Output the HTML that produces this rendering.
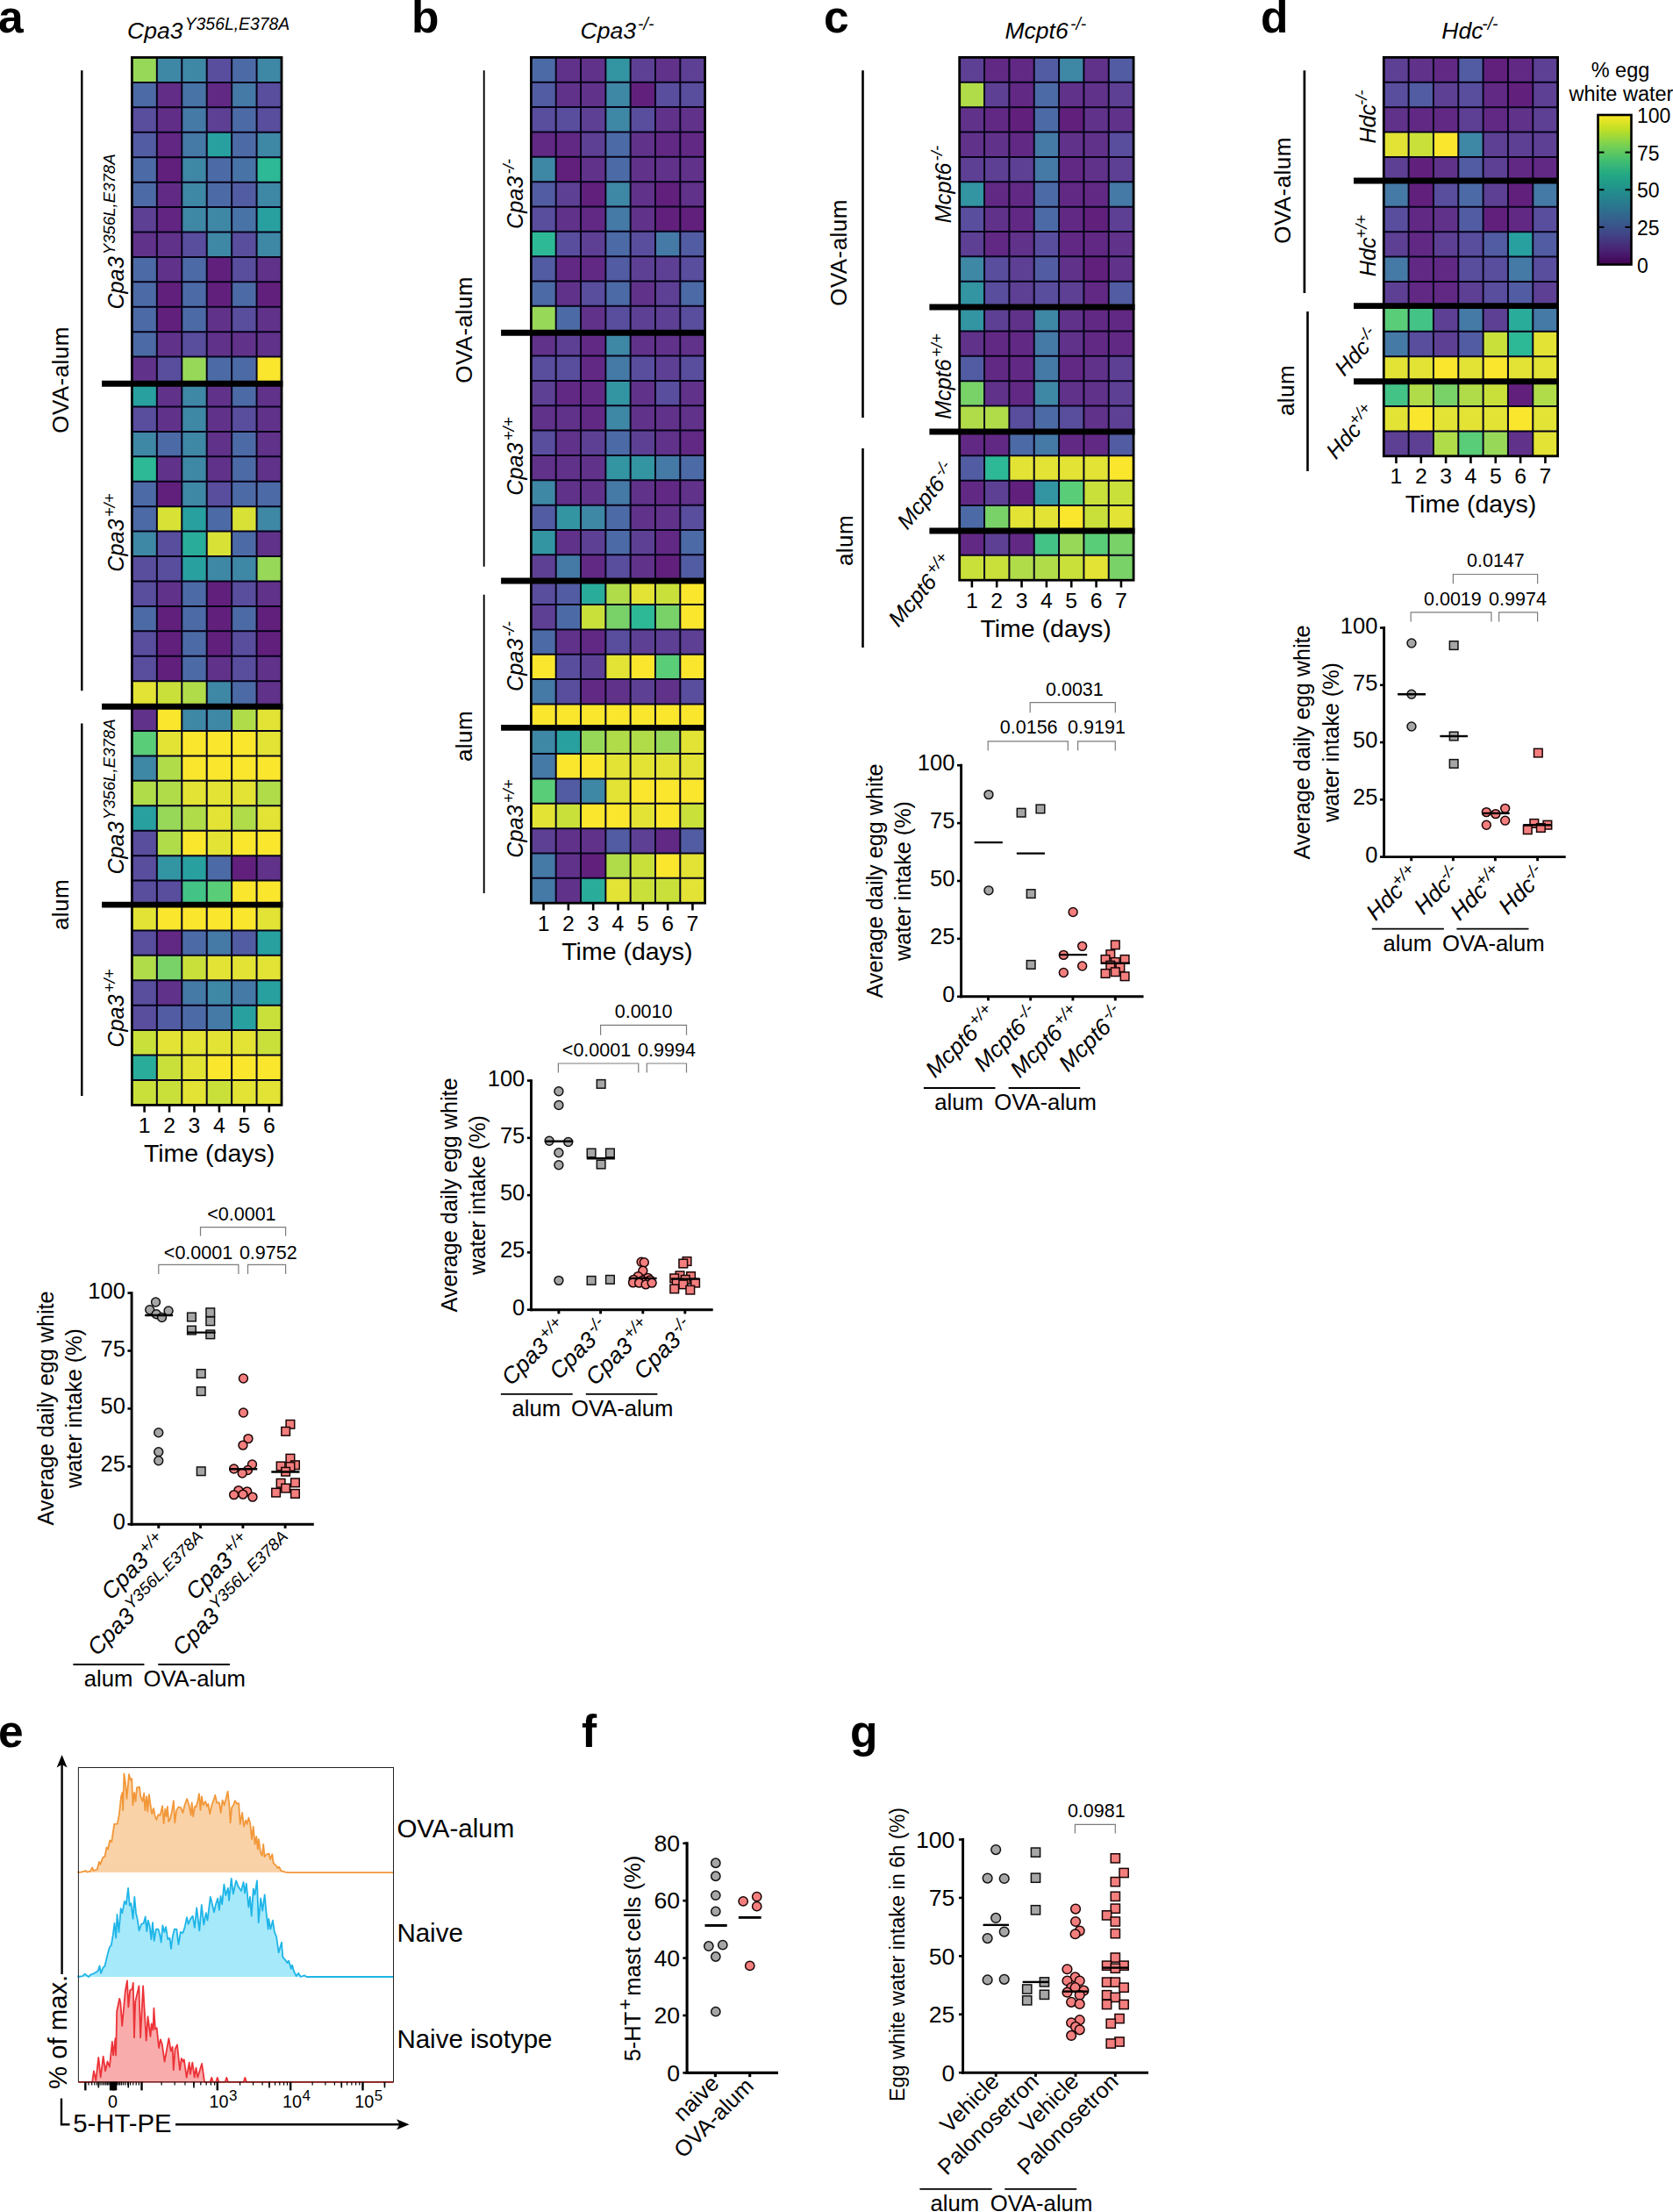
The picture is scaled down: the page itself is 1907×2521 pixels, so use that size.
<!DOCTYPE html>
<html lang="en"><head><meta charset="utf-8"><title>Figure</title><style>html,body{margin:0;padding:0;background:#fff}body{width:1907px;height:2521px;overflow:hidden}</style></head><body>
<svg width="1907" height="2521" viewBox="0 0 1907 2521" style="display:block;font-family:'Liberation Sans', Arial, Helvetica, sans-serif;fill:#000">
<rect width="1907" height="2521" fill="#fff"/>
<text x="-2.00" y="37.30" text-anchor="start" style="font-size:51.5px;font-weight:bold;">a</text>
<g shape-rendering="auto">
<rect x="150.40" y="65.50" width="28.73" height="28.73" fill="#98d858"/>
<rect x="178.83" y="65.50" width="28.73" height="28.73" fill="#3e87a5"/>
<rect x="207.27" y="65.50" width="28.73" height="28.73" fill="#3e87a5"/>
<rect x="235.70" y="65.50" width="28.73" height="28.73" fill="#594d9e"/>
<rect x="264.13" y="65.50" width="28.73" height="28.73" fill="#4c6ba6"/>
<rect x="292.57" y="65.50" width="28.73" height="28.73" fill="#3e87a5"/>
<rect x="150.40" y="93.93" width="28.73" height="28.73" fill="#4c6ba6"/>
<rect x="178.83" y="93.93" width="28.73" height="28.73" fill="#612d86"/>
<rect x="207.27" y="93.93" width="28.73" height="28.73" fill="#4873a6"/>
<rect x="235.70" y="93.93" width="28.73" height="28.73" fill="#622984"/>
<rect x="264.13" y="93.93" width="28.73" height="28.73" fill="#4579a6"/>
<rect x="292.57" y="93.93" width="28.73" height="28.73" fill="#594d9e"/>
<rect x="150.40" y="122.35" width="28.73" height="28.73" fill="#594d9e"/>
<rect x="178.83" y="122.35" width="28.73" height="28.73" fill="#612e87"/>
<rect x="207.27" y="122.35" width="28.73" height="28.73" fill="#4579a6"/>
<rect x="235.70" y="122.35" width="28.73" height="28.73" fill="#5d4094"/>
<rect x="264.13" y="122.35" width="28.73" height="28.73" fill="#4c6ba6"/>
<rect x="292.57" y="122.35" width="28.73" height="28.73" fill="#594d9e"/>
<rect x="150.40" y="150.78" width="28.73" height="28.73" fill="#525ca2"/>
<rect x="178.83" y="150.78" width="28.73" height="28.73" fill="#622782"/>
<rect x="207.27" y="150.78" width="28.73" height="28.73" fill="#4579a6"/>
<rect x="235.70" y="150.78" width="28.73" height="28.73" fill="#28a0a0"/>
<rect x="264.13" y="150.78" width="28.73" height="28.73" fill="#4c6ba6"/>
<rect x="292.57" y="150.78" width="28.73" height="28.73" fill="#3e87a5"/>
<rect x="150.40" y="179.20" width="28.73" height="28.73" fill="#4c6ba6"/>
<rect x="178.83" y="179.20" width="28.73" height="28.73" fill="#62207d"/>
<rect x="207.27" y="179.20" width="28.73" height="28.73" fill="#3e87a5"/>
<rect x="235.70" y="179.20" width="28.73" height="28.73" fill="#4c6ba6"/>
<rect x="264.13" y="179.20" width="28.73" height="28.73" fill="#4873a6"/>
<rect x="292.57" y="179.20" width="28.73" height="28.73" fill="#2db996"/>
<rect x="150.40" y="207.63" width="28.73" height="28.73" fill="#4c6ba6"/>
<rect x="178.83" y="207.63" width="28.73" height="28.73" fill="#612b85"/>
<rect x="207.27" y="207.63" width="28.73" height="28.73" fill="#3e87a5"/>
<rect x="235.70" y="207.63" width="28.73" height="28.73" fill="#4c6ba6"/>
<rect x="264.13" y="207.63" width="28.73" height="28.73" fill="#525ca2"/>
<rect x="292.57" y="207.63" width="28.73" height="28.73" fill="#3e87a5"/>
<rect x="150.40" y="236.06" width="28.73" height="28.73" fill="#5d4094"/>
<rect x="178.83" y="236.06" width="28.73" height="28.73" fill="#622581"/>
<rect x="207.27" y="236.06" width="28.73" height="28.73" fill="#3e87a5"/>
<rect x="235.70" y="236.06" width="28.73" height="28.73" fill="#3e87a5"/>
<rect x="264.13" y="236.06" width="28.73" height="28.73" fill="#4873a6"/>
<rect x="292.57" y="236.06" width="28.73" height="28.73" fill="#28a0a0"/>
<rect x="150.40" y="264.48" width="28.73" height="28.73" fill="#61328a"/>
<rect x="178.83" y="264.48" width="28.73" height="28.73" fill="#61328a"/>
<rect x="207.27" y="264.48" width="28.73" height="28.73" fill="#594d9e"/>
<rect x="235.70" y="264.48" width="28.73" height="28.73" fill="#3e87a5"/>
<rect x="264.13" y="264.48" width="28.73" height="28.73" fill="#594d9e"/>
<rect x="292.57" y="264.48" width="28.73" height="28.73" fill="#3e87a5"/>
<rect x="150.40" y="292.91" width="28.73" height="28.73" fill="#4c6ba6"/>
<rect x="178.83" y="292.91" width="28.73" height="28.73" fill="#61328a"/>
<rect x="207.27" y="292.91" width="28.73" height="28.73" fill="#4c6ba6"/>
<rect x="235.70" y="292.91" width="28.73" height="28.73" fill="#62207d"/>
<rect x="264.13" y="292.91" width="28.73" height="28.73" fill="#594d9e"/>
<rect x="292.57" y="292.91" width="28.73" height="28.73" fill="#61328a"/>
<rect x="150.40" y="321.34" width="28.73" height="28.73" fill="#4c6ba6"/>
<rect x="178.83" y="321.34" width="28.73" height="28.73" fill="#62207d"/>
<rect x="207.27" y="321.34" width="28.73" height="28.73" fill="#4c6ba6"/>
<rect x="235.70" y="321.34" width="28.73" height="28.73" fill="#62207d"/>
<rect x="264.13" y="321.34" width="28.73" height="28.73" fill="#4c6ba6"/>
<rect x="292.57" y="321.34" width="28.73" height="28.73" fill="#62207d"/>
<rect x="150.40" y="349.76" width="28.73" height="28.73" fill="#4c6ba6"/>
<rect x="178.83" y="349.76" width="28.73" height="28.73" fill="#62207d"/>
<rect x="207.27" y="349.76" width="28.73" height="28.73" fill="#4c6ba6"/>
<rect x="235.70" y="349.76" width="28.73" height="28.73" fill="#61328a"/>
<rect x="264.13" y="349.76" width="28.73" height="28.73" fill="#594d9e"/>
<rect x="292.57" y="349.76" width="28.73" height="28.73" fill="#61328a"/>
<rect x="150.40" y="378.19" width="28.73" height="28.73" fill="#4c6ba6"/>
<rect x="178.83" y="378.19" width="28.73" height="28.73" fill="#61328a"/>
<rect x="207.27" y="378.19" width="28.73" height="28.73" fill="#594d9e"/>
<rect x="235.70" y="378.19" width="28.73" height="28.73" fill="#61328a"/>
<rect x="264.13" y="378.19" width="28.73" height="28.73" fill="#61328a"/>
<rect x="292.57" y="378.19" width="28.73" height="28.73" fill="#61328a"/>
<rect x="150.40" y="406.61" width="28.73" height="28.73" fill="#61328a"/>
<rect x="178.83" y="406.61" width="28.73" height="28.73" fill="#594d9e"/>
<rect x="207.27" y="406.61" width="28.73" height="28.73" fill="#98d858"/>
<rect x="235.70" y="406.61" width="28.73" height="28.73" fill="#4c6ba6"/>
<rect x="264.13" y="406.61" width="28.73" height="28.73" fill="#4c6ba6"/>
<rect x="292.57" y="406.61" width="28.73" height="28.73" fill="#fae62d"/>
<rect x="150.40" y="435.04" width="28.73" height="28.73" fill="#28a0a0"/>
<rect x="178.83" y="435.04" width="28.73" height="28.73" fill="#61328a"/>
<rect x="207.27" y="435.04" width="28.73" height="28.73" fill="#3e87a5"/>
<rect x="235.70" y="435.04" width="28.73" height="28.73" fill="#61328a"/>
<rect x="264.13" y="435.04" width="28.73" height="28.73" fill="#4c6ba6"/>
<rect x="292.57" y="435.04" width="28.73" height="28.73" fill="#61328a"/>
<rect x="150.40" y="463.47" width="28.73" height="28.73" fill="#594d9e"/>
<rect x="178.83" y="463.47" width="28.73" height="28.73" fill="#61328a"/>
<rect x="207.27" y="463.47" width="28.73" height="28.73" fill="#3e87a5"/>
<rect x="235.70" y="463.47" width="28.73" height="28.73" fill="#61328a"/>
<rect x="264.13" y="463.47" width="28.73" height="28.73" fill="#594d9e"/>
<rect x="292.57" y="463.47" width="28.73" height="28.73" fill="#61328a"/>
<rect x="150.40" y="491.89" width="28.73" height="28.73" fill="#3e87a5"/>
<rect x="178.83" y="491.89" width="28.73" height="28.73" fill="#4c6ba6"/>
<rect x="207.27" y="491.89" width="28.73" height="28.73" fill="#3e87a5"/>
<rect x="235.70" y="491.89" width="28.73" height="28.73" fill="#61328a"/>
<rect x="264.13" y="491.89" width="28.73" height="28.73" fill="#4c6ba6"/>
<rect x="292.57" y="491.89" width="28.73" height="28.73" fill="#61328a"/>
<rect x="150.40" y="520.32" width="28.73" height="28.73" fill="#2db996"/>
<rect x="178.83" y="520.32" width="28.73" height="28.73" fill="#61328a"/>
<rect x="207.27" y="520.32" width="28.73" height="28.73" fill="#3e87a5"/>
<rect x="235.70" y="520.32" width="28.73" height="28.73" fill="#61328a"/>
<rect x="264.13" y="520.32" width="28.73" height="28.73" fill="#4c6ba6"/>
<rect x="292.57" y="520.32" width="28.73" height="28.73" fill="#61328a"/>
<rect x="150.40" y="548.75" width="28.73" height="28.73" fill="#4c6ba6"/>
<rect x="178.83" y="548.75" width="28.73" height="28.73" fill="#62207d"/>
<rect x="207.27" y="548.75" width="28.73" height="28.73" fill="#3e87a5"/>
<rect x="235.70" y="548.75" width="28.73" height="28.73" fill="#594d9e"/>
<rect x="264.13" y="548.75" width="28.73" height="28.73" fill="#4c6ba6"/>
<rect x="292.57" y="548.75" width="28.73" height="28.73" fill="#4c6ba6"/>
<rect x="150.40" y="577.17" width="28.73" height="28.73" fill="#4c6ba6"/>
<rect x="178.83" y="577.17" width="28.73" height="28.73" fill="#d8e236"/>
<rect x="207.27" y="577.17" width="28.73" height="28.73" fill="#28a0a0"/>
<rect x="235.70" y="577.17" width="28.73" height="28.73" fill="#4c6ba6"/>
<rect x="264.13" y="577.17" width="28.73" height="28.73" fill="#d8e236"/>
<rect x="292.57" y="577.17" width="28.73" height="28.73" fill="#3e87a5"/>
<rect x="150.40" y="605.60" width="28.73" height="28.73" fill="#3e87a5"/>
<rect x="178.83" y="605.60" width="28.73" height="28.73" fill="#594d9e"/>
<rect x="207.27" y="605.60" width="28.73" height="28.73" fill="#2aac9b"/>
<rect x="235.70" y="605.60" width="28.73" height="28.73" fill="#d8e236"/>
<rect x="264.13" y="605.60" width="28.73" height="28.73" fill="#4c6ba6"/>
<rect x="292.57" y="605.60" width="28.73" height="28.73" fill="#61328a"/>
<rect x="150.40" y="634.02" width="28.73" height="28.73" fill="#594d9e"/>
<rect x="178.83" y="634.02" width="28.73" height="28.73" fill="#594d9e"/>
<rect x="207.27" y="634.02" width="28.73" height="28.73" fill="#28a0a0"/>
<rect x="235.70" y="634.02" width="28.73" height="28.73" fill="#3e87a5"/>
<rect x="264.13" y="634.02" width="28.73" height="28.73" fill="#3e87a5"/>
<rect x="292.57" y="634.02" width="28.73" height="28.73" fill="#98d858"/>
<rect x="150.40" y="662.45" width="28.73" height="28.73" fill="#594d9e"/>
<rect x="178.83" y="662.45" width="28.73" height="28.73" fill="#61328a"/>
<rect x="207.27" y="662.45" width="28.73" height="28.73" fill="#4c6ba6"/>
<rect x="235.70" y="662.45" width="28.73" height="28.73" fill="#62207d"/>
<rect x="264.13" y="662.45" width="28.73" height="28.73" fill="#594d9e"/>
<rect x="292.57" y="662.45" width="28.73" height="28.73" fill="#61328a"/>
<rect x="150.40" y="690.88" width="28.73" height="28.73" fill="#4c6ba6"/>
<rect x="178.83" y="690.88" width="28.73" height="28.73" fill="#62207d"/>
<rect x="207.27" y="690.88" width="28.73" height="28.73" fill="#4c6ba6"/>
<rect x="235.70" y="690.88" width="28.73" height="28.73" fill="#62207d"/>
<rect x="264.13" y="690.88" width="28.73" height="28.73" fill="#4c6ba6"/>
<rect x="292.57" y="690.88" width="28.73" height="28.73" fill="#62207d"/>
<rect x="150.40" y="719.30" width="28.73" height="28.73" fill="#594d9e"/>
<rect x="178.83" y="719.30" width="28.73" height="28.73" fill="#62207d"/>
<rect x="207.27" y="719.30" width="28.73" height="28.73" fill="#4c6ba6"/>
<rect x="235.70" y="719.30" width="28.73" height="28.73" fill="#62207d"/>
<rect x="264.13" y="719.30" width="28.73" height="28.73" fill="#594d9e"/>
<rect x="292.57" y="719.30" width="28.73" height="28.73" fill="#62207d"/>
<rect x="150.40" y="747.73" width="28.73" height="28.73" fill="#594d9e"/>
<rect x="178.83" y="747.73" width="28.73" height="28.73" fill="#62207d"/>
<rect x="207.27" y="747.73" width="28.73" height="28.73" fill="#4c6ba6"/>
<rect x="235.70" y="747.73" width="28.73" height="28.73" fill="#61328a"/>
<rect x="264.13" y="747.73" width="28.73" height="28.73" fill="#594d9e"/>
<rect x="292.57" y="747.73" width="28.73" height="28.73" fill="#61328a"/>
<rect x="150.40" y="776.15" width="28.73" height="28.73" fill="#e2e334"/>
<rect x="178.83" y="776.15" width="28.73" height="28.73" fill="#cae03a"/>
<rect x="207.27" y="776.15" width="28.73" height="28.73" fill="#b1dc49"/>
<rect x="235.70" y="776.15" width="28.73" height="28.73" fill="#3e87a5"/>
<rect x="264.13" y="776.15" width="28.73" height="28.73" fill="#4c6ba6"/>
<rect x="292.57" y="776.15" width="28.73" height="28.73" fill="#61328a"/>
<rect x="150.40" y="804.58" width="28.73" height="28.73" fill="#61328a"/>
<rect x="178.83" y="804.58" width="28.73" height="28.73" fill="#fae62d"/>
<rect x="207.27" y="804.58" width="28.73" height="28.73" fill="#3e87a5"/>
<rect x="235.70" y="804.58" width="28.73" height="28.73" fill="#3e87a5"/>
<rect x="264.13" y="804.58" width="28.73" height="28.73" fill="#b1dc49"/>
<rect x="292.57" y="804.58" width="28.73" height="28.73" fill="#e2e334"/>
<rect x="150.40" y="833.01" width="28.73" height="28.73" fill="#5acd78"/>
<rect x="178.83" y="833.01" width="28.73" height="28.73" fill="#e2e334"/>
<rect x="207.27" y="833.01" width="28.73" height="28.73" fill="#fae62d"/>
<rect x="235.70" y="833.01" width="28.73" height="28.73" fill="#fae62d"/>
<rect x="264.13" y="833.01" width="28.73" height="28.73" fill="#fae62d"/>
<rect x="292.57" y="833.01" width="28.73" height="28.73" fill="#e2e334"/>
<rect x="150.40" y="861.43" width="28.73" height="28.73" fill="#3e87a5"/>
<rect x="178.83" y="861.43" width="28.73" height="28.73" fill="#b1dc49"/>
<rect x="207.27" y="861.43" width="28.73" height="28.73" fill="#fae62d"/>
<rect x="235.70" y="861.43" width="28.73" height="28.73" fill="#fae62d"/>
<rect x="264.13" y="861.43" width="28.73" height="28.73" fill="#fae62d"/>
<rect x="292.57" y="861.43" width="28.73" height="28.73" fill="#fae62d"/>
<rect x="150.40" y="889.86" width="28.73" height="28.73" fill="#b1dc49"/>
<rect x="178.83" y="889.86" width="28.73" height="28.73" fill="#b1dc49"/>
<rect x="207.27" y="889.86" width="28.73" height="28.73" fill="#e2e334"/>
<rect x="235.70" y="889.86" width="28.73" height="28.73" fill="#e2e334"/>
<rect x="264.13" y="889.86" width="28.73" height="28.73" fill="#e2e334"/>
<rect x="292.57" y="889.86" width="28.73" height="28.73" fill="#b1dc49"/>
<rect x="150.40" y="918.29" width="28.73" height="28.73" fill="#28a0a0"/>
<rect x="178.83" y="918.29" width="28.73" height="28.73" fill="#98d858"/>
<rect x="207.27" y="918.29" width="28.73" height="28.73" fill="#b1dc49"/>
<rect x="235.70" y="918.29" width="28.73" height="28.73" fill="#e2e334"/>
<rect x="264.13" y="918.29" width="28.73" height="28.73" fill="#b1dc49"/>
<rect x="292.57" y="918.29" width="28.73" height="28.73" fill="#e2e334"/>
<rect x="150.40" y="946.71" width="28.73" height="28.73" fill="#594d9e"/>
<rect x="178.83" y="946.71" width="28.73" height="28.73" fill="#b1dc49"/>
<rect x="207.27" y="946.71" width="28.73" height="28.73" fill="#fae62d"/>
<rect x="235.70" y="946.71" width="28.73" height="28.73" fill="#e2e334"/>
<rect x="264.13" y="946.71" width="28.73" height="28.73" fill="#fae62d"/>
<rect x="292.57" y="946.71" width="28.73" height="28.73" fill="#fae62d"/>
<rect x="150.40" y="975.14" width="28.73" height="28.73" fill="#594d9e"/>
<rect x="178.83" y="975.14" width="28.73" height="28.73" fill="#3394a2"/>
<rect x="207.27" y="975.14" width="28.73" height="28.73" fill="#28a0a0"/>
<rect x="235.70" y="975.14" width="28.73" height="28.73" fill="#4c6ba6"/>
<rect x="264.13" y="975.14" width="28.73" height="28.73" fill="#62207d"/>
<rect x="292.57" y="975.14" width="28.73" height="28.73" fill="#61328a"/>
<rect x="150.40" y="1003.56" width="28.73" height="28.73" fill="#594d9e"/>
<rect x="178.83" y="1003.56" width="28.73" height="28.73" fill="#594d9e"/>
<rect x="207.27" y="1003.56" width="28.73" height="28.73" fill="#44c387"/>
<rect x="235.70" y="1003.56" width="28.73" height="28.73" fill="#5acd78"/>
<rect x="264.13" y="1003.56" width="28.73" height="28.73" fill="#fae62d"/>
<rect x="292.57" y="1003.56" width="28.73" height="28.73" fill="#fae62d"/>
<rect x="150.40" y="1031.99" width="28.73" height="28.73" fill="#e2e334"/>
<rect x="178.83" y="1031.99" width="28.73" height="28.73" fill="#fae62d"/>
<rect x="207.27" y="1031.99" width="28.73" height="28.73" fill="#fae62d"/>
<rect x="235.70" y="1031.99" width="28.73" height="28.73" fill="#fae62d"/>
<rect x="264.13" y="1031.99" width="28.73" height="28.73" fill="#fae62d"/>
<rect x="292.57" y="1031.99" width="28.73" height="28.73" fill="#e2e334"/>
<rect x="150.40" y="1060.42" width="28.73" height="28.73" fill="#594d9e"/>
<rect x="178.83" y="1060.42" width="28.73" height="28.73" fill="#622984"/>
<rect x="207.27" y="1060.42" width="28.73" height="28.73" fill="#4c6ba6"/>
<rect x="235.70" y="1060.42" width="28.73" height="28.73" fill="#4579a6"/>
<rect x="264.13" y="1060.42" width="28.73" height="28.73" fill="#525ca2"/>
<rect x="292.57" y="1060.42" width="28.73" height="28.73" fill="#28a0a0"/>
<rect x="150.40" y="1088.84" width="28.73" height="28.73" fill="#b1dc49"/>
<rect x="178.83" y="1088.84" width="28.73" height="28.73" fill="#79d268"/>
<rect x="207.27" y="1088.84" width="28.73" height="28.73" fill="#cae03a"/>
<rect x="235.70" y="1088.84" width="28.73" height="28.73" fill="#e2e334"/>
<rect x="264.13" y="1088.84" width="28.73" height="28.73" fill="#e2e334"/>
<rect x="292.57" y="1088.84" width="28.73" height="28.73" fill="#e2e334"/>
<rect x="150.40" y="1117.27" width="28.73" height="28.73" fill="#594d9e"/>
<rect x="178.83" y="1117.27" width="28.73" height="28.73" fill="#61328a"/>
<rect x="207.27" y="1117.27" width="28.73" height="28.73" fill="#4579a6"/>
<rect x="235.70" y="1117.27" width="28.73" height="28.73" fill="#3e87a5"/>
<rect x="264.13" y="1117.27" width="28.73" height="28.73" fill="#4579a6"/>
<rect x="292.57" y="1117.27" width="28.73" height="28.73" fill="#28a0a0"/>
<rect x="150.40" y="1145.70" width="28.73" height="28.73" fill="#594d9e"/>
<rect x="178.83" y="1145.70" width="28.73" height="28.73" fill="#525ca2"/>
<rect x="207.27" y="1145.70" width="28.73" height="28.73" fill="#4c6ba6"/>
<rect x="235.70" y="1145.70" width="28.73" height="28.73" fill="#4579a6"/>
<rect x="264.13" y="1145.70" width="28.73" height="28.73" fill="#28a0a0"/>
<rect x="292.57" y="1145.70" width="28.73" height="28.73" fill="#cae03a"/>
<rect x="150.40" y="1174.12" width="28.73" height="28.73" fill="#cae03a"/>
<rect x="178.83" y="1174.12" width="28.73" height="28.73" fill="#e2e334"/>
<rect x="207.27" y="1174.12" width="28.73" height="28.73" fill="#e2e334"/>
<rect x="235.70" y="1174.12" width="28.73" height="28.73" fill="#e2e334"/>
<rect x="264.13" y="1174.12" width="28.73" height="28.73" fill="#e2e334"/>
<rect x="292.57" y="1174.12" width="28.73" height="28.73" fill="#cae03a"/>
<rect x="150.40" y="1202.55" width="28.73" height="28.73" fill="#2aac9b"/>
<rect x="178.83" y="1202.55" width="28.73" height="28.73" fill="#cae03a"/>
<rect x="207.27" y="1202.55" width="28.73" height="28.73" fill="#e2e334"/>
<rect x="235.70" y="1202.55" width="28.73" height="28.73" fill="#fae62d"/>
<rect x="264.13" y="1202.55" width="28.73" height="28.73" fill="#fae62d"/>
<rect x="292.57" y="1202.55" width="28.73" height="28.73" fill="#fae62d"/>
<rect x="150.40" y="1230.97" width="28.73" height="28.73" fill="#cae03a"/>
<rect x="178.83" y="1230.97" width="28.73" height="28.73" fill="#cae03a"/>
<rect x="207.27" y="1230.97" width="28.73" height="28.73" fill="#e2e334"/>
<rect x="235.70" y="1230.97" width="28.73" height="28.73" fill="#cae03a"/>
<rect x="264.13" y="1230.97" width="28.73" height="28.73" fill="#e2e334"/>
<rect x="292.57" y="1230.97" width="28.73" height="28.73" fill="#e2e334"/>
<path d="M178.83 65.50V1259.40M207.27 65.50V1259.40M235.70 65.50V1259.40M264.13 65.50V1259.40M292.57 65.50V1259.40M150.40 93.93H321.00M150.40 122.35H321.00M150.40 150.78H321.00M150.40 179.20H321.00M150.40 207.63H321.00M150.40 236.06H321.00M150.40 264.48H321.00M150.40 292.91H321.00M150.40 321.34H321.00M150.40 349.76H321.00M150.40 378.19H321.00M150.40 406.61H321.00M150.40 435.04H321.00M150.40 463.47H321.00M150.40 491.89H321.00M150.40 520.32H321.00M150.40 548.75H321.00M150.40 577.17H321.00M150.40 605.60H321.00M150.40 634.02H321.00M150.40 662.45H321.00M150.40 690.88H321.00M150.40 719.30H321.00M150.40 747.73H321.00M150.40 776.15H321.00M150.40 804.58H321.00M150.40 833.01H321.00M150.40 861.43H321.00M150.40 889.86H321.00M150.40 918.29H321.00M150.40 946.71H321.00M150.40 975.14H321.00M150.40 1003.56H321.00M150.40 1031.99H321.00M150.40 1060.42H321.00M150.40 1088.84H321.00M150.40 1117.27H321.00M150.40 1145.70H321.00M150.40 1174.12H321.00M150.40 1202.55H321.00M150.40 1230.97H321.00" stroke="#06021a" stroke-width="2" fill="none"/>
<rect x="150.40" y="65.50" width="170.60" height="1193.90" fill="none" stroke="#000" stroke-width="2.8"/>
<line x1="116.10" y1="437.20" x2="322.40" y2="437.20" stroke="#000" stroke-width="6.9" stroke-linecap="butt"/>
<line x1="116.10" y1="805.30" x2="322.40" y2="805.30" stroke="#000" stroke-width="6.9" stroke-linecap="butt"/>
<line x1="116.10" y1="1031.10" x2="322.40" y2="1031.10" stroke="#000" stroke-width="6.9" stroke-linecap="butt"/>
</g>
<line x1="164.62" y1="1259.40" x2="164.62" y2="1267.70" stroke="#000" stroke-width="2.6" stroke-linecap="butt"/>
<text x="164.62" y="1290.90" text-anchor="middle" style="font-size:24.8px;">1</text>
<line x1="193.05" y1="1259.40" x2="193.05" y2="1267.70" stroke="#000" stroke-width="2.6" stroke-linecap="butt"/>
<text x="193.05" y="1290.90" text-anchor="middle" style="font-size:24.8px;">2</text>
<line x1="221.48" y1="1259.40" x2="221.48" y2="1267.70" stroke="#000" stroke-width="2.6" stroke-linecap="butt"/>
<text x="221.48" y="1290.90" text-anchor="middle" style="font-size:24.8px;">3</text>
<line x1="249.92" y1="1259.40" x2="249.92" y2="1267.70" stroke="#000" stroke-width="2.6" stroke-linecap="butt"/>
<text x="249.92" y="1290.90" text-anchor="middle" style="font-size:24.8px;">4</text>
<line x1="278.35" y1="1259.40" x2="278.35" y2="1267.70" stroke="#000" stroke-width="2.6" stroke-linecap="butt"/>
<text x="278.35" y="1290.90" text-anchor="middle" style="font-size:24.8px;">5</text>
<line x1="306.78" y1="1259.40" x2="306.78" y2="1267.70" stroke="#000" stroke-width="2.6" stroke-linecap="butt"/>
<text x="306.78" y="1290.90" text-anchor="middle" style="font-size:24.8px;">6</text>
<text x="238.60" y="1323.70" text-anchor="middle" style="font-size:28.5px;">Time (days)</text>
<text x="237.70" y="44.00" text-anchor="middle" style="font-size:26.5px;font-style:italic;"><tspan>Cpa3</tspan><tspan dx="2.2" dy="-9.8" style="font-size:19.4px">Y356L,E378A</tspan></text>
<line x1="93.30" y1="80.30" x2="93.30" y2="787.30" stroke="#000" stroke-width="2.4" stroke-linecap="butt"/>
<line x1="93.30" y1="824.60" x2="93.30" y2="1249.00" stroke="#000" stroke-width="2.4" stroke-linecap="butt"/>
<text x="0" y="0" text-anchor="middle" style="font-size:26px;" transform="translate(77.50,433.00) rotate(-90)" letter-spacing="0.45px">OVA-alum</text>
<text x="0" y="0" text-anchor="middle" style="font-size:26px;" transform="translate(77.50,1031.00) rotate(-90)" letter-spacing="0.45px">alum</text>
<text x="0" y="0" text-anchor="middle" style="font-size:25.2px;font-style:italic;" transform="translate(140.60,264.00) rotate(-90)"><tspan>Cpa3</tspan><tspan dx="2.2" dy="-9.5" style="font-size:18.6px">Y356L,E378A</tspan></text>
<text x="0" y="0" text-anchor="middle" style="font-size:25.2px;font-style:italic;" transform="translate(140.60,607.00) rotate(-90)"><tspan>Cpa3</tspan><tspan dx="2.2" dy="-9.5" style="font-size:18.6px">+/+</tspan></text>
<text x="0" y="0" text-anchor="middle" style="font-size:25.2px;font-style:italic;" transform="translate(140.60,908.00) rotate(-90)"><tspan>Cpa3</tspan><tspan dx="2.2" dy="-9.5" style="font-size:18.6px">Y356L,E378A</tspan></text>
<text x="0" y="0" text-anchor="middle" style="font-size:25.2px;font-style:italic;" transform="translate(140.60,1149.00) rotate(-90)"><tspan>Cpa3</tspan><tspan dx="2.2" dy="-9.5" style="font-size:18.6px">+/+</tspan></text>
<text x="469.00" y="37.30" text-anchor="start" style="font-size:51.5px;font-weight:bold;">b</text>
<g shape-rendering="auto">
<rect x="605.40" y="65.40" width="28.61" height="28.65" fill="#4c6ba6"/>
<rect x="633.71" y="65.40" width="28.61" height="28.65" fill="#61328a"/>
<rect x="662.03" y="65.40" width="28.61" height="28.65" fill="#61328a"/>
<rect x="690.34" y="65.40" width="28.61" height="28.65" fill="#3394a2"/>
<rect x="718.66" y="65.40" width="28.61" height="28.65" fill="#5d4094"/>
<rect x="746.97" y="65.40" width="28.61" height="28.65" fill="#61328a"/>
<rect x="775.29" y="65.40" width="28.61" height="28.65" fill="#5d4094"/>
<rect x="605.40" y="93.75" width="28.61" height="28.65" fill="#525ca2"/>
<rect x="633.71" y="93.75" width="28.61" height="28.65" fill="#61328a"/>
<rect x="662.03" y="93.75" width="28.61" height="28.65" fill="#61328a"/>
<rect x="690.34" y="93.75" width="28.61" height="28.65" fill="#3e87a5"/>
<rect x="718.66" y="93.75" width="28.61" height="28.65" fill="#62207d"/>
<rect x="746.97" y="93.75" width="28.61" height="28.65" fill="#594d9e"/>
<rect x="775.29" y="93.75" width="28.61" height="28.65" fill="#594d9e"/>
<rect x="605.40" y="122.09" width="28.61" height="28.65" fill="#594d9e"/>
<rect x="633.71" y="122.09" width="28.61" height="28.65" fill="#594d9e"/>
<rect x="662.03" y="122.09" width="28.61" height="28.65" fill="#5d4094"/>
<rect x="690.34" y="122.09" width="28.61" height="28.65" fill="#3e87a5"/>
<rect x="718.66" y="122.09" width="28.61" height="28.65" fill="#594d9e"/>
<rect x="746.97" y="122.09" width="28.61" height="28.65" fill="#61328a"/>
<rect x="775.29" y="122.09" width="28.61" height="28.65" fill="#61328a"/>
<rect x="605.40" y="150.44" width="28.61" height="28.65" fill="#622984"/>
<rect x="633.71" y="150.44" width="28.61" height="28.65" fill="#622984"/>
<rect x="662.03" y="150.44" width="28.61" height="28.65" fill="#5d4094"/>
<rect x="690.34" y="150.44" width="28.61" height="28.65" fill="#4c6ba6"/>
<rect x="718.66" y="150.44" width="28.61" height="28.65" fill="#61328a"/>
<rect x="746.97" y="150.44" width="28.61" height="28.65" fill="#622984"/>
<rect x="775.29" y="150.44" width="28.61" height="28.65" fill="#622984"/>
<rect x="605.40" y="178.79" width="28.61" height="28.65" fill="#3e87a5"/>
<rect x="633.71" y="178.79" width="28.61" height="28.65" fill="#62207d"/>
<rect x="662.03" y="178.79" width="28.61" height="28.65" fill="#61328a"/>
<rect x="690.34" y="178.79" width="28.61" height="28.65" fill="#4c6ba6"/>
<rect x="718.66" y="178.79" width="28.61" height="28.65" fill="#61328a"/>
<rect x="746.97" y="178.79" width="28.61" height="28.65" fill="#61328a"/>
<rect x="775.29" y="178.79" width="28.61" height="28.65" fill="#61328a"/>
<rect x="605.40" y="207.14" width="28.61" height="28.65" fill="#525ca2"/>
<rect x="633.71" y="207.14" width="28.61" height="28.65" fill="#5d4094"/>
<rect x="662.03" y="207.14" width="28.61" height="28.65" fill="#62207d"/>
<rect x="690.34" y="207.14" width="28.61" height="28.65" fill="#3e87a5"/>
<rect x="718.66" y="207.14" width="28.61" height="28.65" fill="#61328a"/>
<rect x="746.97" y="207.14" width="28.61" height="28.65" fill="#62207d"/>
<rect x="775.29" y="207.14" width="28.61" height="28.65" fill="#61328a"/>
<rect x="605.40" y="235.48" width="28.61" height="28.65" fill="#594d9e"/>
<rect x="633.71" y="235.48" width="28.61" height="28.65" fill="#61328a"/>
<rect x="662.03" y="235.48" width="28.61" height="28.65" fill="#622984"/>
<rect x="690.34" y="235.48" width="28.61" height="28.65" fill="#4579a6"/>
<rect x="718.66" y="235.48" width="28.61" height="28.65" fill="#61328a"/>
<rect x="746.97" y="235.48" width="28.61" height="28.65" fill="#62207d"/>
<rect x="775.29" y="235.48" width="28.61" height="28.65" fill="#62207d"/>
<rect x="605.40" y="263.83" width="28.61" height="28.65" fill="#2db996"/>
<rect x="633.71" y="263.83" width="28.61" height="28.65" fill="#594d9e"/>
<rect x="662.03" y="263.83" width="28.61" height="28.65" fill="#5d4094"/>
<rect x="690.34" y="263.83" width="28.61" height="28.65" fill="#4c6ba6"/>
<rect x="718.66" y="263.83" width="28.61" height="28.65" fill="#594d9e"/>
<rect x="746.97" y="263.83" width="28.61" height="28.65" fill="#4579a6"/>
<rect x="775.29" y="263.83" width="28.61" height="28.65" fill="#525ca2"/>
<rect x="605.40" y="292.18" width="28.61" height="28.65" fill="#525ca2"/>
<rect x="633.71" y="292.18" width="28.61" height="28.65" fill="#622984"/>
<rect x="662.03" y="292.18" width="28.61" height="28.65" fill="#622984"/>
<rect x="690.34" y="292.18" width="28.61" height="28.65" fill="#525ca2"/>
<rect x="718.66" y="292.18" width="28.61" height="28.65" fill="#5d4094"/>
<rect x="746.97" y="292.18" width="28.61" height="28.65" fill="#5d4094"/>
<rect x="775.29" y="292.18" width="28.61" height="28.65" fill="#594d9e"/>
<rect x="605.40" y="320.52" width="28.61" height="28.65" fill="#4c6ba6"/>
<rect x="633.71" y="320.52" width="28.61" height="28.65" fill="#61328a"/>
<rect x="662.03" y="320.52" width="28.61" height="28.65" fill="#594d9e"/>
<rect x="690.34" y="320.52" width="28.61" height="28.65" fill="#4c6ba6"/>
<rect x="718.66" y="320.52" width="28.61" height="28.65" fill="#61328a"/>
<rect x="746.97" y="320.52" width="28.61" height="28.65" fill="#5d4094"/>
<rect x="775.29" y="320.52" width="28.61" height="28.65" fill="#4c6ba6"/>
<rect x="605.40" y="348.87" width="28.61" height="28.65" fill="#98d858"/>
<rect x="633.71" y="348.87" width="28.61" height="28.65" fill="#4c6ba6"/>
<rect x="662.03" y="348.87" width="28.61" height="28.65" fill="#61328a"/>
<rect x="690.34" y="348.87" width="28.61" height="28.65" fill="#594d9e"/>
<rect x="718.66" y="348.87" width="28.61" height="28.65" fill="#5d4094"/>
<rect x="746.97" y="348.87" width="28.61" height="28.65" fill="#5d4094"/>
<rect x="775.29" y="348.87" width="28.61" height="28.65" fill="#594d9e"/>
<rect x="605.40" y="377.22" width="28.61" height="28.65" fill="#61328a"/>
<rect x="633.71" y="377.22" width="28.61" height="28.65" fill="#5d4094"/>
<rect x="662.03" y="377.22" width="28.61" height="28.65" fill="#622984"/>
<rect x="690.34" y="377.22" width="28.61" height="28.65" fill="#3e87a5"/>
<rect x="718.66" y="377.22" width="28.61" height="28.65" fill="#61328a"/>
<rect x="746.97" y="377.22" width="28.61" height="28.65" fill="#61328a"/>
<rect x="775.29" y="377.22" width="28.61" height="28.65" fill="#61328a"/>
<rect x="605.40" y="405.56" width="28.61" height="28.65" fill="#594d9e"/>
<rect x="633.71" y="405.56" width="28.61" height="28.65" fill="#594d9e"/>
<rect x="662.03" y="405.56" width="28.61" height="28.65" fill="#622984"/>
<rect x="690.34" y="405.56" width="28.61" height="28.65" fill="#4579a6"/>
<rect x="718.66" y="405.56" width="28.61" height="28.65" fill="#594d9e"/>
<rect x="746.97" y="405.56" width="28.61" height="28.65" fill="#5d4094"/>
<rect x="775.29" y="405.56" width="28.61" height="28.65" fill="#594d9e"/>
<rect x="605.40" y="433.91" width="28.61" height="28.65" fill="#5d4094"/>
<rect x="633.71" y="433.91" width="28.61" height="28.65" fill="#622984"/>
<rect x="662.03" y="433.91" width="28.61" height="28.65" fill="#622984"/>
<rect x="690.34" y="433.91" width="28.61" height="28.65" fill="#3394a2"/>
<rect x="718.66" y="433.91" width="28.61" height="28.65" fill="#61328a"/>
<rect x="746.97" y="433.91" width="28.61" height="28.65" fill="#594d9e"/>
<rect x="775.29" y="433.91" width="28.61" height="28.65" fill="#61328a"/>
<rect x="605.40" y="462.26" width="28.61" height="28.65" fill="#61328a"/>
<rect x="633.71" y="462.26" width="28.61" height="28.65" fill="#61328a"/>
<rect x="662.03" y="462.26" width="28.61" height="28.65" fill="#622984"/>
<rect x="690.34" y="462.26" width="28.61" height="28.65" fill="#3e87a5"/>
<rect x="718.66" y="462.26" width="28.61" height="28.65" fill="#61328a"/>
<rect x="746.97" y="462.26" width="28.61" height="28.65" fill="#61328a"/>
<rect x="775.29" y="462.26" width="28.61" height="28.65" fill="#61328a"/>
<rect x="605.40" y="490.61" width="28.61" height="28.65" fill="#594d9e"/>
<rect x="633.71" y="490.61" width="28.61" height="28.65" fill="#61328a"/>
<rect x="662.03" y="490.61" width="28.61" height="28.65" fill="#5d4094"/>
<rect x="690.34" y="490.61" width="28.61" height="28.65" fill="#4c6ba6"/>
<rect x="718.66" y="490.61" width="28.61" height="28.65" fill="#5d4094"/>
<rect x="746.97" y="490.61" width="28.61" height="28.65" fill="#61328a"/>
<rect x="775.29" y="490.61" width="28.61" height="28.65" fill="#622984"/>
<rect x="605.40" y="518.95" width="28.61" height="28.65" fill="#61328a"/>
<rect x="633.71" y="518.95" width="28.61" height="28.65" fill="#61328a"/>
<rect x="662.03" y="518.95" width="28.61" height="28.65" fill="#61328a"/>
<rect x="690.34" y="518.95" width="28.61" height="28.65" fill="#3394a2"/>
<rect x="718.66" y="518.95" width="28.61" height="28.65" fill="#3394a2"/>
<rect x="746.97" y="518.95" width="28.61" height="28.65" fill="#4579a6"/>
<rect x="775.29" y="518.95" width="28.61" height="28.65" fill="#4c6ba6"/>
<rect x="605.40" y="547.30" width="28.61" height="28.65" fill="#3e87a5"/>
<rect x="633.71" y="547.30" width="28.61" height="28.65" fill="#61328a"/>
<rect x="662.03" y="547.30" width="28.61" height="28.65" fill="#61328a"/>
<rect x="690.34" y="547.30" width="28.61" height="28.65" fill="#4579a6"/>
<rect x="718.66" y="547.30" width="28.61" height="28.65" fill="#61328a"/>
<rect x="746.97" y="547.30" width="28.61" height="28.65" fill="#622984"/>
<rect x="775.29" y="547.30" width="28.61" height="28.65" fill="#61328a"/>
<rect x="605.40" y="575.65" width="28.61" height="28.65" fill="#525ca2"/>
<rect x="633.71" y="575.65" width="28.61" height="28.65" fill="#3394a2"/>
<rect x="662.03" y="575.65" width="28.61" height="28.65" fill="#3e87a5"/>
<rect x="690.34" y="575.65" width="28.61" height="28.65" fill="#4c6ba6"/>
<rect x="718.66" y="575.65" width="28.61" height="28.65" fill="#61328a"/>
<rect x="746.97" y="575.65" width="28.61" height="28.65" fill="#61328a"/>
<rect x="775.29" y="575.65" width="28.61" height="28.65" fill="#594d9e"/>
<rect x="605.40" y="603.99" width="28.61" height="28.65" fill="#3394a2"/>
<rect x="633.71" y="603.99" width="28.61" height="28.65" fill="#61328a"/>
<rect x="662.03" y="603.99" width="28.61" height="28.65" fill="#5d4094"/>
<rect x="690.34" y="603.99" width="28.61" height="28.65" fill="#4c6ba6"/>
<rect x="718.66" y="603.99" width="28.61" height="28.65" fill="#5d4094"/>
<rect x="746.97" y="603.99" width="28.61" height="28.65" fill="#622984"/>
<rect x="775.29" y="603.99" width="28.61" height="28.65" fill="#4c6ba6"/>
<rect x="605.40" y="632.34" width="28.61" height="28.65" fill="#5d4094"/>
<rect x="633.71" y="632.34" width="28.61" height="28.65" fill="#4579a6"/>
<rect x="662.03" y="632.34" width="28.61" height="28.65" fill="#622984"/>
<rect x="690.34" y="632.34" width="28.61" height="28.65" fill="#594d9e"/>
<rect x="718.66" y="632.34" width="28.61" height="28.65" fill="#61328a"/>
<rect x="746.97" y="632.34" width="28.61" height="28.65" fill="#62207d"/>
<rect x="775.29" y="632.34" width="28.61" height="28.65" fill="#525ca2"/>
<rect x="605.40" y="660.69" width="28.61" height="28.65" fill="#594d9e"/>
<rect x="633.71" y="660.69" width="28.61" height="28.65" fill="#525ca2"/>
<rect x="662.03" y="660.69" width="28.61" height="28.65" fill="#2aac9b"/>
<rect x="690.34" y="660.69" width="28.61" height="28.65" fill="#b1dc49"/>
<rect x="718.66" y="660.69" width="28.61" height="28.65" fill="#e2e334"/>
<rect x="746.97" y="660.69" width="28.61" height="28.65" fill="#cae03a"/>
<rect x="775.29" y="660.69" width="28.61" height="28.65" fill="#fae62d"/>
<rect x="605.40" y="689.04" width="28.61" height="28.65" fill="#5d4094"/>
<rect x="633.71" y="689.04" width="28.61" height="28.65" fill="#4c6ba6"/>
<rect x="662.03" y="689.04" width="28.61" height="28.65" fill="#cae03a"/>
<rect x="690.34" y="689.04" width="28.61" height="28.65" fill="#79d268"/>
<rect x="718.66" y="689.04" width="28.61" height="28.65" fill="#2db996"/>
<rect x="746.97" y="689.04" width="28.61" height="28.65" fill="#79d268"/>
<rect x="775.29" y="689.04" width="28.61" height="28.65" fill="#fae62d"/>
<rect x="605.40" y="717.38" width="28.61" height="28.65" fill="#4c6ba6"/>
<rect x="633.71" y="717.38" width="28.61" height="28.65" fill="#61328a"/>
<rect x="662.03" y="717.38" width="28.61" height="28.65" fill="#622984"/>
<rect x="690.34" y="717.38" width="28.61" height="28.65" fill="#594d9e"/>
<rect x="718.66" y="717.38" width="28.61" height="28.65" fill="#5d4094"/>
<rect x="746.97" y="717.38" width="28.61" height="28.65" fill="#5d4094"/>
<rect x="775.29" y="717.38" width="28.61" height="28.65" fill="#5d4094"/>
<rect x="605.40" y="745.73" width="28.61" height="28.65" fill="#fae62d"/>
<rect x="633.71" y="745.73" width="28.61" height="28.65" fill="#594d9e"/>
<rect x="662.03" y="745.73" width="28.61" height="28.65" fill="#5d4094"/>
<rect x="690.34" y="745.73" width="28.61" height="28.65" fill="#e2e334"/>
<rect x="718.66" y="745.73" width="28.61" height="28.65" fill="#fae62d"/>
<rect x="746.97" y="745.73" width="28.61" height="28.65" fill="#5acd78"/>
<rect x="775.29" y="745.73" width="28.61" height="28.65" fill="#fae62d"/>
<rect x="605.40" y="774.08" width="28.61" height="28.65" fill="#4579a6"/>
<rect x="633.71" y="774.08" width="28.61" height="28.65" fill="#594d9e"/>
<rect x="662.03" y="774.08" width="28.61" height="28.65" fill="#622984"/>
<rect x="690.34" y="774.08" width="28.61" height="28.65" fill="#61328a"/>
<rect x="718.66" y="774.08" width="28.61" height="28.65" fill="#5d4094"/>
<rect x="746.97" y="774.08" width="28.61" height="28.65" fill="#61328a"/>
<rect x="775.29" y="774.08" width="28.61" height="28.65" fill="#594d9e"/>
<rect x="605.40" y="802.42" width="28.61" height="28.65" fill="#fae62d"/>
<rect x="633.71" y="802.42" width="28.61" height="28.65" fill="#fae62d"/>
<rect x="662.03" y="802.42" width="28.61" height="28.65" fill="#fae62d"/>
<rect x="690.34" y="802.42" width="28.61" height="28.65" fill="#fae62d"/>
<rect x="718.66" y="802.42" width="28.61" height="28.65" fill="#fae62d"/>
<rect x="746.97" y="802.42" width="28.61" height="28.65" fill="#fae62d"/>
<rect x="775.29" y="802.42" width="28.61" height="28.65" fill="#fae62d"/>
<rect x="605.40" y="830.77" width="28.61" height="28.65" fill="#3e87a5"/>
<rect x="633.71" y="830.77" width="28.61" height="28.65" fill="#28a0a0"/>
<rect x="662.03" y="830.77" width="28.61" height="28.65" fill="#98d858"/>
<rect x="690.34" y="830.77" width="28.61" height="28.65" fill="#b1dc49"/>
<rect x="718.66" y="830.77" width="28.61" height="28.65" fill="#b1dc49"/>
<rect x="746.97" y="830.77" width="28.61" height="28.65" fill="#98d858"/>
<rect x="775.29" y="830.77" width="28.61" height="28.65" fill="#e2e334"/>
<rect x="605.40" y="859.12" width="28.61" height="28.65" fill="#4579a6"/>
<rect x="633.71" y="859.12" width="28.61" height="28.65" fill="#fae62d"/>
<rect x="662.03" y="859.12" width="28.61" height="28.65" fill="#fae62d"/>
<rect x="690.34" y="859.12" width="28.61" height="28.65" fill="#e2e334"/>
<rect x="718.66" y="859.12" width="28.61" height="28.65" fill="#e2e334"/>
<rect x="746.97" y="859.12" width="28.61" height="28.65" fill="#e2e334"/>
<rect x="775.29" y="859.12" width="28.61" height="28.65" fill="#e2e334"/>
<rect x="605.40" y="887.46" width="28.61" height="28.65" fill="#5acd78"/>
<rect x="633.71" y="887.46" width="28.61" height="28.65" fill="#525ca2"/>
<rect x="662.03" y="887.46" width="28.61" height="28.65" fill="#3e87a5"/>
<rect x="690.34" y="887.46" width="28.61" height="28.65" fill="#e2e334"/>
<rect x="718.66" y="887.46" width="28.61" height="28.65" fill="#fae62d"/>
<rect x="746.97" y="887.46" width="28.61" height="28.65" fill="#fae62d"/>
<rect x="775.29" y="887.46" width="28.61" height="28.65" fill="#fae62d"/>
<rect x="605.40" y="915.81" width="28.61" height="28.65" fill="#e2e334"/>
<rect x="633.71" y="915.81" width="28.61" height="28.65" fill="#cae03a"/>
<rect x="662.03" y="915.81" width="28.61" height="28.65" fill="#fae62d"/>
<rect x="690.34" y="915.81" width="28.61" height="28.65" fill="#fae62d"/>
<rect x="718.66" y="915.81" width="28.61" height="28.65" fill="#e2e334"/>
<rect x="746.97" y="915.81" width="28.61" height="28.65" fill="#fae62d"/>
<rect x="775.29" y="915.81" width="28.61" height="28.65" fill="#cae03a"/>
<rect x="605.40" y="944.16" width="28.61" height="28.65" fill="#5d4094"/>
<rect x="633.71" y="944.16" width="28.61" height="28.65" fill="#61328a"/>
<rect x="662.03" y="944.16" width="28.61" height="28.65" fill="#61328a"/>
<rect x="690.34" y="944.16" width="28.61" height="28.65" fill="#525ca2"/>
<rect x="718.66" y="944.16" width="28.61" height="28.65" fill="#5d4094"/>
<rect x="746.97" y="944.16" width="28.61" height="28.65" fill="#622984"/>
<rect x="775.29" y="944.16" width="28.61" height="28.65" fill="#525ca2"/>
<rect x="605.40" y="972.51" width="28.61" height="28.65" fill="#4579a6"/>
<rect x="633.71" y="972.51" width="28.61" height="28.65" fill="#61328a"/>
<rect x="662.03" y="972.51" width="28.61" height="28.65" fill="#62207d"/>
<rect x="690.34" y="972.51" width="28.61" height="28.65" fill="#b1dc49"/>
<rect x="718.66" y="972.51" width="28.61" height="28.65" fill="#cae03a"/>
<rect x="746.97" y="972.51" width="28.61" height="28.65" fill="#fae62d"/>
<rect x="775.29" y="972.51" width="28.61" height="28.65" fill="#e2e334"/>
<rect x="605.40" y="1000.85" width="28.61" height="28.65" fill="#4579a6"/>
<rect x="633.71" y="1000.85" width="28.61" height="28.65" fill="#61328a"/>
<rect x="662.03" y="1000.85" width="28.61" height="28.65" fill="#2aac9b"/>
<rect x="690.34" y="1000.85" width="28.61" height="28.65" fill="#e2e334"/>
<rect x="718.66" y="1000.85" width="28.61" height="28.65" fill="#cae03a"/>
<rect x="746.97" y="1000.85" width="28.61" height="28.65" fill="#cae03a"/>
<rect x="775.29" y="1000.85" width="28.61" height="28.65" fill="#e2e334"/>
<path d="M633.71 65.40V1029.20M662.03 65.40V1029.20M690.34 65.40V1029.20M718.66 65.40V1029.20M746.97 65.40V1029.20M775.29 65.40V1029.20M605.40 93.75H803.60M605.40 122.09H803.60M605.40 150.44H803.60M605.40 178.79H803.60M605.40 207.14H803.60M605.40 235.48H803.60M605.40 263.83H803.60M605.40 292.18H803.60M605.40 320.52H803.60M605.40 348.87H803.60M605.40 377.22H803.60M605.40 405.56H803.60M605.40 433.91H803.60M605.40 462.26H803.60M605.40 490.61H803.60M605.40 518.95H803.60M605.40 547.30H803.60M605.40 575.65H803.60M605.40 603.99H803.60M605.40 632.34H803.60M605.40 660.69H803.60M605.40 689.04H803.60M605.40 717.38H803.60M605.40 745.73H803.60M605.40 774.08H803.60M605.40 802.42H803.60M605.40 830.77H803.60M605.40 859.12H803.60M605.40 887.46H803.60M605.40 915.81H803.60M605.40 944.16H803.60M605.40 972.51H803.60M605.40 1000.85H803.60" stroke="#06021a" stroke-width="2" fill="none"/>
<rect x="605.40" y="65.40" width="198.20" height="963.80" fill="none" stroke="#000" stroke-width="2.8"/>
<line x1="571.10" y1="379.30" x2="805.00" y2="379.30" stroke="#000" stroke-width="6.9" stroke-linecap="butt"/>
<line x1="571.10" y1="662.00" x2="805.00" y2="662.00" stroke="#000" stroke-width="6.9" stroke-linecap="butt"/>
<line x1="571.10" y1="829.40" x2="805.00" y2="829.40" stroke="#000" stroke-width="6.9" stroke-linecap="butt"/>
</g>
<line x1="619.56" y1="1029.20" x2="619.56" y2="1037.50" stroke="#000" stroke-width="2.6" stroke-linecap="butt"/>
<text x="619.56" y="1060.70" text-anchor="middle" style="font-size:24.8px;">1</text>
<line x1="647.87" y1="1029.20" x2="647.87" y2="1037.50" stroke="#000" stroke-width="2.6" stroke-linecap="butt"/>
<text x="647.87" y="1060.70" text-anchor="middle" style="font-size:24.8px;">2</text>
<line x1="676.19" y1="1029.20" x2="676.19" y2="1037.50" stroke="#000" stroke-width="2.6" stroke-linecap="butt"/>
<text x="676.19" y="1060.70" text-anchor="middle" style="font-size:24.8px;">3</text>
<line x1="704.50" y1="1029.20" x2="704.50" y2="1037.50" stroke="#000" stroke-width="2.6" stroke-linecap="butt"/>
<text x="704.50" y="1060.70" text-anchor="middle" style="font-size:24.8px;">4</text>
<line x1="732.81" y1="1029.20" x2="732.81" y2="1037.50" stroke="#000" stroke-width="2.6" stroke-linecap="butt"/>
<text x="732.81" y="1060.70" text-anchor="middle" style="font-size:24.8px;">5</text>
<line x1="761.13" y1="1029.20" x2="761.13" y2="1037.50" stroke="#000" stroke-width="2.6" stroke-linecap="butt"/>
<text x="761.13" y="1060.70" text-anchor="middle" style="font-size:24.8px;">6</text>
<line x1="789.44" y1="1029.20" x2="789.44" y2="1037.50" stroke="#000" stroke-width="2.6" stroke-linecap="butt"/>
<text x="789.44" y="1060.70" text-anchor="middle" style="font-size:24.8px;">7</text>
<text x="714.90" y="1093.50" text-anchor="middle" style="font-size:28.5px;">Time (days)</text>
<text x="703.50" y="44.00" text-anchor="middle" style="font-size:26.5px;font-style:italic;"><tspan>Cpa3</tspan><tspan dx="2.2" dy="-9.8" style="font-size:19.4px">-/-</tspan></text>
<line x1="551.70" y1="80.30" x2="551.70" y2="645.70" stroke="#000" stroke-width="1.9" stroke-linecap="butt"/>
<line x1="551.70" y1="677.80" x2="551.70" y2="1018.00" stroke="#000" stroke-width="1.9" stroke-linecap="butt"/>
<text x="0" y="0" text-anchor="middle" style="font-size:26px;" transform="translate(537.50,376.00) rotate(-90)" letter-spacing="0.45px">OVA-alum</text>
<text x="0" y="0" text-anchor="middle" style="font-size:26px;" transform="translate(537.50,839.00) rotate(-90)" letter-spacing="0.45px">alum</text>
<text x="0" y="0" text-anchor="middle" style="font-size:25.2px;font-style:italic;" transform="translate(595.60,221.00) rotate(-90)"><tspan>Cpa3</tspan><tspan dx="2.2" dy="-9.5" style="font-size:18.6px">-/-</tspan></text>
<text x="0" y="0" text-anchor="middle" style="font-size:25.2px;font-style:italic;" transform="translate(595.60,520.00) rotate(-90)"><tspan>Cpa3</tspan><tspan dx="2.2" dy="-9.5" style="font-size:18.6px">+/+</tspan></text>
<text x="0" y="0" text-anchor="middle" style="font-size:25.2px;font-style:italic;" transform="translate(595.60,748.00) rotate(-90)"><tspan>Cpa3</tspan><tspan dx="2.2" dy="-9.5" style="font-size:18.6px">-/-</tspan></text>
<text x="0" y="0" text-anchor="middle" style="font-size:25.2px;font-style:italic;" transform="translate(595.60,933.00) rotate(-90)"><tspan>Cpa3</tspan><tspan dx="2.2" dy="-9.5" style="font-size:18.6px">+/+</tspan></text>
<text x="939.00" y="37.30" text-anchor="start" style="font-size:51.5px;font-weight:bold;">c</text>
<g shape-rendering="auto">
<rect x="1093.70" y="65.40" width="28.64" height="28.67" fill="#5d4094"/>
<rect x="1122.04" y="65.40" width="28.64" height="28.67" fill="#622984"/>
<rect x="1150.39" y="65.40" width="28.64" height="28.67" fill="#622984"/>
<rect x="1178.73" y="65.40" width="28.64" height="28.67" fill="#525ca2"/>
<rect x="1207.07" y="65.40" width="28.64" height="28.67" fill="#3e87a5"/>
<rect x="1235.41" y="65.40" width="28.64" height="28.67" fill="#61328a"/>
<rect x="1263.76" y="65.40" width="28.64" height="28.67" fill="#525ca2"/>
<rect x="1093.70" y="93.77" width="28.64" height="28.67" fill="#b1dc49"/>
<rect x="1122.04" y="93.77" width="28.64" height="28.67" fill="#5d4094"/>
<rect x="1150.39" y="93.77" width="28.64" height="28.67" fill="#622984"/>
<rect x="1178.73" y="93.77" width="28.64" height="28.67" fill="#4c6ba6"/>
<rect x="1207.07" y="93.77" width="28.64" height="28.67" fill="#61328a"/>
<rect x="1235.41" y="93.77" width="28.64" height="28.67" fill="#61328a"/>
<rect x="1263.76" y="93.77" width="28.64" height="28.67" fill="#5d4094"/>
<rect x="1093.70" y="122.14" width="28.64" height="28.67" fill="#61328a"/>
<rect x="1122.04" y="122.14" width="28.64" height="28.67" fill="#622984"/>
<rect x="1150.39" y="122.14" width="28.64" height="28.67" fill="#62207d"/>
<rect x="1178.73" y="122.14" width="28.64" height="28.67" fill="#4c6ba6"/>
<rect x="1207.07" y="122.14" width="28.64" height="28.67" fill="#62207d"/>
<rect x="1235.41" y="122.14" width="28.64" height="28.67" fill="#61328a"/>
<rect x="1263.76" y="122.14" width="28.64" height="28.67" fill="#61328a"/>
<rect x="1093.70" y="150.51" width="28.64" height="28.67" fill="#61328a"/>
<rect x="1122.04" y="150.51" width="28.64" height="28.67" fill="#61328a"/>
<rect x="1150.39" y="150.51" width="28.64" height="28.67" fill="#622984"/>
<rect x="1178.73" y="150.51" width="28.64" height="28.67" fill="#4579a6"/>
<rect x="1207.07" y="150.51" width="28.64" height="28.67" fill="#61328a"/>
<rect x="1235.41" y="150.51" width="28.64" height="28.67" fill="#61328a"/>
<rect x="1263.76" y="150.51" width="28.64" height="28.67" fill="#594d9e"/>
<rect x="1093.70" y="178.89" width="28.64" height="28.67" fill="#5d4094"/>
<rect x="1122.04" y="178.89" width="28.64" height="28.67" fill="#5d4094"/>
<rect x="1150.39" y="178.89" width="28.64" height="28.67" fill="#5d4094"/>
<rect x="1178.73" y="178.89" width="28.64" height="28.67" fill="#4579a6"/>
<rect x="1207.07" y="178.89" width="28.64" height="28.67" fill="#622984"/>
<rect x="1235.41" y="178.89" width="28.64" height="28.67" fill="#61328a"/>
<rect x="1263.76" y="178.89" width="28.64" height="28.67" fill="#5d4094"/>
<rect x="1093.70" y="207.26" width="28.64" height="28.67" fill="#3394a2"/>
<rect x="1122.04" y="207.26" width="28.64" height="28.67" fill="#622984"/>
<rect x="1150.39" y="207.26" width="28.64" height="28.67" fill="#622984"/>
<rect x="1178.73" y="207.26" width="28.64" height="28.67" fill="#4c6ba6"/>
<rect x="1207.07" y="207.26" width="28.64" height="28.67" fill="#622984"/>
<rect x="1235.41" y="207.26" width="28.64" height="28.67" fill="#622984"/>
<rect x="1263.76" y="207.26" width="28.64" height="28.67" fill="#4579a6"/>
<rect x="1093.70" y="235.63" width="28.64" height="28.67" fill="#594d9e"/>
<rect x="1122.04" y="235.63" width="28.64" height="28.67" fill="#61328a"/>
<rect x="1150.39" y="235.63" width="28.64" height="28.67" fill="#622984"/>
<rect x="1178.73" y="235.63" width="28.64" height="28.67" fill="#4c6ba6"/>
<rect x="1207.07" y="235.63" width="28.64" height="28.67" fill="#622984"/>
<rect x="1235.41" y="235.63" width="28.64" height="28.67" fill="#62207d"/>
<rect x="1263.76" y="235.63" width="28.64" height="28.67" fill="#5d4094"/>
<rect x="1093.70" y="264.00" width="28.64" height="28.67" fill="#5d4094"/>
<rect x="1122.04" y="264.00" width="28.64" height="28.67" fill="#622984"/>
<rect x="1150.39" y="264.00" width="28.64" height="28.67" fill="#61328a"/>
<rect x="1178.73" y="264.00" width="28.64" height="28.67" fill="#594d9e"/>
<rect x="1207.07" y="264.00" width="28.64" height="28.67" fill="#622984"/>
<rect x="1235.41" y="264.00" width="28.64" height="28.67" fill="#622984"/>
<rect x="1263.76" y="264.00" width="28.64" height="28.67" fill="#61328a"/>
<rect x="1093.70" y="292.37" width="28.64" height="28.67" fill="#3e87a5"/>
<rect x="1122.04" y="292.37" width="28.64" height="28.67" fill="#594d9e"/>
<rect x="1150.39" y="292.37" width="28.64" height="28.67" fill="#5d4094"/>
<rect x="1178.73" y="292.37" width="28.64" height="28.67" fill="#525ca2"/>
<rect x="1207.07" y="292.37" width="28.64" height="28.67" fill="#61328a"/>
<rect x="1235.41" y="292.37" width="28.64" height="28.67" fill="#62207d"/>
<rect x="1263.76" y="292.37" width="28.64" height="28.67" fill="#61328a"/>
<rect x="1093.70" y="320.74" width="28.64" height="28.67" fill="#3394a2"/>
<rect x="1122.04" y="320.74" width="28.64" height="28.67" fill="#594d9e"/>
<rect x="1150.39" y="320.74" width="28.64" height="28.67" fill="#5d4094"/>
<rect x="1178.73" y="320.74" width="28.64" height="28.67" fill="#594d9e"/>
<rect x="1207.07" y="320.74" width="28.64" height="28.67" fill="#5d4094"/>
<rect x="1235.41" y="320.74" width="28.64" height="28.67" fill="#622984"/>
<rect x="1263.76" y="320.74" width="28.64" height="28.67" fill="#525ca2"/>
<rect x="1093.70" y="349.11" width="28.64" height="28.67" fill="#3394a2"/>
<rect x="1122.04" y="349.11" width="28.64" height="28.67" fill="#5d4094"/>
<rect x="1150.39" y="349.11" width="28.64" height="28.67" fill="#61328a"/>
<rect x="1178.73" y="349.11" width="28.64" height="28.67" fill="#3e87a5"/>
<rect x="1207.07" y="349.11" width="28.64" height="28.67" fill="#61328a"/>
<rect x="1235.41" y="349.11" width="28.64" height="28.67" fill="#622984"/>
<rect x="1263.76" y="349.11" width="28.64" height="28.67" fill="#622984"/>
<rect x="1093.70" y="377.49" width="28.64" height="28.67" fill="#61328a"/>
<rect x="1122.04" y="377.49" width="28.64" height="28.67" fill="#622984"/>
<rect x="1150.39" y="377.49" width="28.64" height="28.67" fill="#622984"/>
<rect x="1178.73" y="377.49" width="28.64" height="28.67" fill="#4579a6"/>
<rect x="1207.07" y="377.49" width="28.64" height="28.67" fill="#61328a"/>
<rect x="1235.41" y="377.49" width="28.64" height="28.67" fill="#622984"/>
<rect x="1263.76" y="377.49" width="28.64" height="28.67" fill="#622984"/>
<rect x="1093.70" y="405.86" width="28.64" height="28.67" fill="#525ca2"/>
<rect x="1122.04" y="405.86" width="28.64" height="28.67" fill="#622984"/>
<rect x="1150.39" y="405.86" width="28.64" height="28.67" fill="#622984"/>
<rect x="1178.73" y="405.86" width="28.64" height="28.67" fill="#4579a6"/>
<rect x="1207.07" y="405.86" width="28.64" height="28.67" fill="#622984"/>
<rect x="1235.41" y="405.86" width="28.64" height="28.67" fill="#61328a"/>
<rect x="1263.76" y="405.86" width="28.64" height="28.67" fill="#5d4094"/>
<rect x="1093.70" y="434.23" width="28.64" height="28.67" fill="#79d268"/>
<rect x="1122.04" y="434.23" width="28.64" height="28.67" fill="#61328a"/>
<rect x="1150.39" y="434.23" width="28.64" height="28.67" fill="#622984"/>
<rect x="1178.73" y="434.23" width="28.64" height="28.67" fill="#3e87a5"/>
<rect x="1207.07" y="434.23" width="28.64" height="28.67" fill="#61328a"/>
<rect x="1235.41" y="434.23" width="28.64" height="28.67" fill="#61328a"/>
<rect x="1263.76" y="434.23" width="28.64" height="28.67" fill="#5d4094"/>
<rect x="1093.70" y="462.60" width="28.64" height="28.67" fill="#b1dc49"/>
<rect x="1122.04" y="462.60" width="28.64" height="28.67" fill="#b1dc49"/>
<rect x="1150.39" y="462.60" width="28.64" height="28.67" fill="#594d9e"/>
<rect x="1178.73" y="462.60" width="28.64" height="28.67" fill="#4c6ba6"/>
<rect x="1207.07" y="462.60" width="28.64" height="28.67" fill="#594d9e"/>
<rect x="1235.41" y="462.60" width="28.64" height="28.67" fill="#61328a"/>
<rect x="1263.76" y="462.60" width="28.64" height="28.67" fill="#5d4094"/>
<rect x="1093.70" y="490.97" width="28.64" height="28.67" fill="#622984"/>
<rect x="1122.04" y="490.97" width="28.64" height="28.67" fill="#622984"/>
<rect x="1150.39" y="490.97" width="28.64" height="28.67" fill="#4c6ba6"/>
<rect x="1178.73" y="490.97" width="28.64" height="28.67" fill="#4579a6"/>
<rect x="1207.07" y="490.97" width="28.64" height="28.67" fill="#622984"/>
<rect x="1235.41" y="490.97" width="28.64" height="28.67" fill="#622984"/>
<rect x="1263.76" y="490.97" width="28.64" height="28.67" fill="#525ca2"/>
<rect x="1093.70" y="519.34" width="28.64" height="28.67" fill="#525ca2"/>
<rect x="1122.04" y="519.34" width="28.64" height="28.67" fill="#2db996"/>
<rect x="1150.39" y="519.34" width="28.64" height="28.67" fill="#e2e334"/>
<rect x="1178.73" y="519.34" width="28.64" height="28.67" fill="#e2e334"/>
<rect x="1207.07" y="519.34" width="28.64" height="28.67" fill="#e2e334"/>
<rect x="1235.41" y="519.34" width="28.64" height="28.67" fill="#e2e334"/>
<rect x="1263.76" y="519.34" width="28.64" height="28.67" fill="#fae62d"/>
<rect x="1093.70" y="547.71" width="28.64" height="28.67" fill="#622984"/>
<rect x="1122.04" y="547.71" width="28.64" height="28.67" fill="#5d4094"/>
<rect x="1150.39" y="547.71" width="28.64" height="28.67" fill="#62207d"/>
<rect x="1178.73" y="547.71" width="28.64" height="28.67" fill="#3394a2"/>
<rect x="1207.07" y="547.71" width="28.64" height="28.67" fill="#5acd78"/>
<rect x="1235.41" y="547.71" width="28.64" height="28.67" fill="#cae03a"/>
<rect x="1263.76" y="547.71" width="28.64" height="28.67" fill="#cae03a"/>
<rect x="1093.70" y="576.09" width="28.64" height="28.67" fill="#4c6ba6"/>
<rect x="1122.04" y="576.09" width="28.64" height="28.67" fill="#79d268"/>
<rect x="1150.39" y="576.09" width="28.64" height="28.67" fill="#e2e334"/>
<rect x="1178.73" y="576.09" width="28.64" height="28.67" fill="#e2e334"/>
<rect x="1207.07" y="576.09" width="28.64" height="28.67" fill="#fae62d"/>
<rect x="1235.41" y="576.09" width="28.64" height="28.67" fill="#cae03a"/>
<rect x="1263.76" y="576.09" width="28.64" height="28.67" fill="#e2e334"/>
<rect x="1093.70" y="604.46" width="28.64" height="28.67" fill="#622984"/>
<rect x="1122.04" y="604.46" width="28.64" height="28.67" fill="#5d4094"/>
<rect x="1150.39" y="604.46" width="28.64" height="28.67" fill="#622984"/>
<rect x="1178.73" y="604.46" width="28.64" height="28.67" fill="#44c387"/>
<rect x="1207.07" y="604.46" width="28.64" height="28.67" fill="#98d858"/>
<rect x="1235.41" y="604.46" width="28.64" height="28.67" fill="#5acd78"/>
<rect x="1263.76" y="604.46" width="28.64" height="28.67" fill="#79d268"/>
<rect x="1093.70" y="632.83" width="28.64" height="28.67" fill="#cae03a"/>
<rect x="1122.04" y="632.83" width="28.64" height="28.67" fill="#cae03a"/>
<rect x="1150.39" y="632.83" width="28.64" height="28.67" fill="#b1dc49"/>
<rect x="1178.73" y="632.83" width="28.64" height="28.67" fill="#b1dc49"/>
<rect x="1207.07" y="632.83" width="28.64" height="28.67" fill="#cae03a"/>
<rect x="1235.41" y="632.83" width="28.64" height="28.67" fill="#e2e334"/>
<rect x="1263.76" y="632.83" width="28.64" height="28.67" fill="#79d268"/>
<path d="M1122.04 65.40V661.20M1150.39 65.40V661.20M1178.73 65.40V661.20M1207.07 65.40V661.20M1235.41 65.40V661.20M1263.76 65.40V661.20M1093.70 93.77H1292.10M1093.70 122.14H1292.10M1093.70 150.51H1292.10M1093.70 178.89H1292.10M1093.70 207.26H1292.10M1093.70 235.63H1292.10M1093.70 264.00H1292.10M1093.70 292.37H1292.10M1093.70 320.74H1292.10M1093.70 349.11H1292.10M1093.70 377.49H1292.10M1093.70 405.86H1292.10M1093.70 434.23H1292.10M1093.70 462.60H1292.10M1093.70 490.97H1292.10M1093.70 519.34H1292.10M1093.70 547.71H1292.10M1093.70 576.09H1292.10M1093.70 604.46H1292.10M1093.70 632.83H1292.10" stroke="#06021a" stroke-width="2" fill="none"/>
<rect x="1093.70" y="65.40" width="198.40" height="595.80" fill="none" stroke="#000" stroke-width="2.8"/>
<line x1="1059.40" y1="350.00" x2="1293.50" y2="350.00" stroke="#000" stroke-width="6.9" stroke-linecap="butt"/>
<line x1="1059.40" y1="492.00" x2="1293.50" y2="492.00" stroke="#000" stroke-width="6.9" stroke-linecap="butt"/>
<line x1="1059.40" y1="605.00" x2="1293.50" y2="605.00" stroke="#000" stroke-width="6.9" stroke-linecap="butt"/>
</g>
<line x1="1107.87" y1="661.20" x2="1107.87" y2="669.50" stroke="#000" stroke-width="2.6" stroke-linecap="butt"/>
<text x="1107.87" y="692.70" text-anchor="middle" style="font-size:24.8px;">1</text>
<line x1="1136.21" y1="661.20" x2="1136.21" y2="669.50" stroke="#000" stroke-width="2.6" stroke-linecap="butt"/>
<text x="1136.21" y="692.70" text-anchor="middle" style="font-size:24.8px;">2</text>
<line x1="1164.56" y1="661.20" x2="1164.56" y2="669.50" stroke="#000" stroke-width="2.6" stroke-linecap="butt"/>
<text x="1164.56" y="692.70" text-anchor="middle" style="font-size:24.8px;">3</text>
<line x1="1192.90" y1="661.20" x2="1192.90" y2="669.50" stroke="#000" stroke-width="2.6" stroke-linecap="butt"/>
<text x="1192.90" y="692.70" text-anchor="middle" style="font-size:24.8px;">4</text>
<line x1="1221.24" y1="661.20" x2="1221.24" y2="669.50" stroke="#000" stroke-width="2.6" stroke-linecap="butt"/>
<text x="1221.24" y="692.70" text-anchor="middle" style="font-size:24.8px;">5</text>
<line x1="1249.59" y1="661.20" x2="1249.59" y2="669.50" stroke="#000" stroke-width="2.6" stroke-linecap="butt"/>
<text x="1249.59" y="692.70" text-anchor="middle" style="font-size:24.8px;">6</text>
<line x1="1277.93" y1="661.20" x2="1277.93" y2="669.50" stroke="#000" stroke-width="2.6" stroke-linecap="butt"/>
<text x="1277.93" y="692.70" text-anchor="middle" style="font-size:24.8px;">7</text>
<text x="1192.10" y="725.50" text-anchor="middle" style="font-size:28.5px;">Time (days)</text>
<text x="1191.90" y="44.00" text-anchor="middle" style="font-size:26.5px;font-style:italic;"><tspan>Mcpt6</tspan><tspan dx="2.2" dy="-9.8" style="font-size:19.4px">-/-</tspan></text>
<line x1="983.50" y1="80.30" x2="983.50" y2="476.00" stroke="#000" stroke-width="2.6" stroke-linecap="butt"/>
<line x1="983.50" y1="511.00" x2="983.50" y2="738.00" stroke="#000" stroke-width="2.6" stroke-linecap="butt"/>
<text x="0" y="0" text-anchor="middle" style="font-size:26px;" transform="translate(965.00,288.00) rotate(-90)" letter-spacing="0.45px">OVA-alum</text>
<text x="0" y="0" text-anchor="middle" style="font-size:26px;" transform="translate(972.00,616.00) rotate(-90)" letter-spacing="0.45px">alum</text>
<text x="0" y="0" text-anchor="middle" style="font-size:25.2px;font-style:italic;" transform="translate(1083.90,210.00) rotate(-90)"><tspan>Mcpt6</tspan><tspan dx="2.2" dy="-9.5" style="font-size:18.6px">-/-</tspan></text>
<text x="0" y="0" text-anchor="middle" style="font-size:25.2px;font-style:italic;" transform="translate(1083.90,429.00) rotate(-90)"><tspan>Mcpt6</tspan><tspan dx="2.2" dy="-9.5" style="font-size:18.6px">+/+</tspan></text>
<text x="0" y="0" text-anchor="end" style="font-size:25.2px;font-style:italic;" transform="translate(1091.00,537.00) rotate(-50)"><tspan>Mcpt6</tspan><tspan dx="2.2" dy="-9.5" style="font-size:18.6px">-/-</tspan></text>
<text x="0" y="0" text-anchor="end" style="font-size:25.2px;font-style:italic;" transform="translate(1088.00,642.00) rotate(-49)"><tspan>Mcpt6</tspan><tspan dx="2.2" dy="-9.5" style="font-size:18.6px">+/+</tspan></text>
<text x="1437.00" y="37.30" text-anchor="start" style="font-size:51.5px;font-weight:bold;">d</text>
<g shape-rendering="auto">
<rect x="1577.30" y="65.40" width="28.63" height="28.70" fill="#5d4094"/>
<rect x="1605.63" y="65.40" width="28.63" height="28.70" fill="#61328a"/>
<rect x="1633.96" y="65.40" width="28.63" height="28.70" fill="#622984"/>
<rect x="1662.29" y="65.40" width="28.63" height="28.70" fill="#525ca2"/>
<rect x="1690.61" y="65.40" width="28.63" height="28.70" fill="#62207d"/>
<rect x="1718.94" y="65.40" width="28.63" height="28.70" fill="#622984"/>
<rect x="1747.27" y="65.40" width="28.63" height="28.70" fill="#5d4094"/>
<rect x="1577.30" y="93.80" width="28.63" height="28.70" fill="#594d9e"/>
<rect x="1605.63" y="93.80" width="28.63" height="28.70" fill="#525ca2"/>
<rect x="1633.96" y="93.80" width="28.63" height="28.70" fill="#5d4094"/>
<rect x="1662.29" y="93.80" width="28.63" height="28.70" fill="#594d9e"/>
<rect x="1690.61" y="93.80" width="28.63" height="28.70" fill="#622984"/>
<rect x="1718.94" y="93.80" width="28.63" height="28.70" fill="#62207d"/>
<rect x="1747.27" y="93.80" width="28.63" height="28.70" fill="#5d4094"/>
<rect x="1577.30" y="122.20" width="28.63" height="28.70" fill="#61328a"/>
<rect x="1605.63" y="122.20" width="28.63" height="28.70" fill="#622984"/>
<rect x="1633.96" y="122.20" width="28.63" height="28.70" fill="#622984"/>
<rect x="1662.29" y="122.20" width="28.63" height="28.70" fill="#5d4094"/>
<rect x="1690.61" y="122.20" width="28.63" height="28.70" fill="#622984"/>
<rect x="1718.94" y="122.20" width="28.63" height="28.70" fill="#61328a"/>
<rect x="1747.27" y="122.20" width="28.63" height="28.70" fill="#5d4094"/>
<rect x="1577.30" y="150.60" width="28.63" height="28.70" fill="#e2e334"/>
<rect x="1605.63" y="150.60" width="28.63" height="28.70" fill="#cae03a"/>
<rect x="1633.96" y="150.60" width="28.63" height="28.70" fill="#fae62d"/>
<rect x="1662.29" y="150.60" width="28.63" height="28.70" fill="#3e87a5"/>
<rect x="1690.61" y="150.60" width="28.63" height="28.70" fill="#5d4094"/>
<rect x="1718.94" y="150.60" width="28.63" height="28.70" fill="#5d4094"/>
<rect x="1747.27" y="150.60" width="28.63" height="28.70" fill="#5d4094"/>
<rect x="1577.30" y="179.00" width="28.63" height="28.70" fill="#5d4094"/>
<rect x="1605.63" y="179.00" width="28.63" height="28.70" fill="#62207d"/>
<rect x="1633.96" y="179.00" width="28.63" height="28.70" fill="#61328a"/>
<rect x="1662.29" y="179.00" width="28.63" height="28.70" fill="#525ca2"/>
<rect x="1690.61" y="179.00" width="28.63" height="28.70" fill="#5d4094"/>
<rect x="1718.94" y="179.00" width="28.63" height="28.70" fill="#622984"/>
<rect x="1747.27" y="179.00" width="28.63" height="28.70" fill="#622984"/>
<rect x="1577.30" y="207.40" width="28.63" height="28.70" fill="#4579a6"/>
<rect x="1605.63" y="207.40" width="28.63" height="28.70" fill="#62207d"/>
<rect x="1633.96" y="207.40" width="28.63" height="28.70" fill="#594d9e"/>
<rect x="1662.29" y="207.40" width="28.63" height="28.70" fill="#4c6ba6"/>
<rect x="1690.61" y="207.40" width="28.63" height="28.70" fill="#5d4094"/>
<rect x="1718.94" y="207.40" width="28.63" height="28.70" fill="#62207d"/>
<rect x="1747.27" y="207.40" width="28.63" height="28.70" fill="#4579a6"/>
<rect x="1577.30" y="235.80" width="28.63" height="28.70" fill="#594d9e"/>
<rect x="1605.63" y="235.80" width="28.63" height="28.70" fill="#622984"/>
<rect x="1633.96" y="235.80" width="28.63" height="28.70" fill="#61328a"/>
<rect x="1662.29" y="235.80" width="28.63" height="28.70" fill="#525ca2"/>
<rect x="1690.61" y="235.80" width="28.63" height="28.70" fill="#62207d"/>
<rect x="1718.94" y="235.80" width="28.63" height="28.70" fill="#622984"/>
<rect x="1747.27" y="235.80" width="28.63" height="28.70" fill="#594d9e"/>
<rect x="1577.30" y="264.20" width="28.63" height="28.70" fill="#5d4094"/>
<rect x="1605.63" y="264.20" width="28.63" height="28.70" fill="#622984"/>
<rect x="1633.96" y="264.20" width="28.63" height="28.70" fill="#5d4094"/>
<rect x="1662.29" y="264.20" width="28.63" height="28.70" fill="#594d9e"/>
<rect x="1690.61" y="264.20" width="28.63" height="28.70" fill="#525ca2"/>
<rect x="1718.94" y="264.20" width="28.63" height="28.70" fill="#28a0a0"/>
<rect x="1747.27" y="264.20" width="28.63" height="28.70" fill="#525ca2"/>
<rect x="1577.30" y="292.60" width="28.63" height="28.70" fill="#4579a6"/>
<rect x="1605.63" y="292.60" width="28.63" height="28.70" fill="#622984"/>
<rect x="1633.96" y="292.60" width="28.63" height="28.70" fill="#622984"/>
<rect x="1662.29" y="292.60" width="28.63" height="28.70" fill="#594d9e"/>
<rect x="1690.61" y="292.60" width="28.63" height="28.70" fill="#594d9e"/>
<rect x="1718.94" y="292.60" width="28.63" height="28.70" fill="#4579a6"/>
<rect x="1747.27" y="292.60" width="28.63" height="28.70" fill="#594d9e"/>
<rect x="1577.30" y="321.00" width="28.63" height="28.70" fill="#5d4094"/>
<rect x="1605.63" y="321.00" width="28.63" height="28.70" fill="#622984"/>
<rect x="1633.96" y="321.00" width="28.63" height="28.70" fill="#622984"/>
<rect x="1662.29" y="321.00" width="28.63" height="28.70" fill="#5d4094"/>
<rect x="1690.61" y="321.00" width="28.63" height="28.70" fill="#594d9e"/>
<rect x="1718.94" y="321.00" width="28.63" height="28.70" fill="#525ca2"/>
<rect x="1747.27" y="321.00" width="28.63" height="28.70" fill="#5d4094"/>
<rect x="1577.30" y="349.40" width="28.63" height="28.70" fill="#5acd78"/>
<rect x="1605.63" y="349.40" width="28.63" height="28.70" fill="#44c387"/>
<rect x="1633.96" y="349.40" width="28.63" height="28.70" fill="#5d4094"/>
<rect x="1662.29" y="349.40" width="28.63" height="28.70" fill="#4579a6"/>
<rect x="1690.61" y="349.40" width="28.63" height="28.70" fill="#5d4094"/>
<rect x="1718.94" y="349.40" width="28.63" height="28.70" fill="#2aac9b"/>
<rect x="1747.27" y="349.40" width="28.63" height="28.70" fill="#4579a6"/>
<rect x="1577.30" y="377.80" width="28.63" height="28.70" fill="#4579a6"/>
<rect x="1605.63" y="377.80" width="28.63" height="28.70" fill="#594d9e"/>
<rect x="1633.96" y="377.80" width="28.63" height="28.70" fill="#5d4094"/>
<rect x="1662.29" y="377.80" width="28.63" height="28.70" fill="#525ca2"/>
<rect x="1690.61" y="377.80" width="28.63" height="28.70" fill="#cae03a"/>
<rect x="1718.94" y="377.80" width="28.63" height="28.70" fill="#2db996"/>
<rect x="1747.27" y="377.80" width="28.63" height="28.70" fill="#e2e334"/>
<rect x="1577.30" y="406.20" width="28.63" height="28.70" fill="#e2e334"/>
<rect x="1605.63" y="406.20" width="28.63" height="28.70" fill="#e2e334"/>
<rect x="1633.96" y="406.20" width="28.63" height="28.70" fill="#fae62d"/>
<rect x="1662.29" y="406.20" width="28.63" height="28.70" fill="#e2e334"/>
<rect x="1690.61" y="406.20" width="28.63" height="28.70" fill="#fae62d"/>
<rect x="1718.94" y="406.20" width="28.63" height="28.70" fill="#e2e334"/>
<rect x="1747.27" y="406.20" width="28.63" height="28.70" fill="#e2e334"/>
<rect x="1577.30" y="434.60" width="28.63" height="28.70" fill="#44c387"/>
<rect x="1605.63" y="434.60" width="28.63" height="28.70" fill="#b1dc49"/>
<rect x="1633.96" y="434.60" width="28.63" height="28.70" fill="#79d268"/>
<rect x="1662.29" y="434.60" width="28.63" height="28.70" fill="#b1dc49"/>
<rect x="1690.61" y="434.60" width="28.63" height="28.70" fill="#cae03a"/>
<rect x="1718.94" y="434.60" width="28.63" height="28.70" fill="#62207d"/>
<rect x="1747.27" y="434.60" width="28.63" height="28.70" fill="#b1dc49"/>
<rect x="1577.30" y="463.00" width="28.63" height="28.70" fill="#e2e334"/>
<rect x="1605.63" y="463.00" width="28.63" height="28.70" fill="#fae62d"/>
<rect x="1633.96" y="463.00" width="28.63" height="28.70" fill="#e2e334"/>
<rect x="1662.29" y="463.00" width="28.63" height="28.70" fill="#e2e334"/>
<rect x="1690.61" y="463.00" width="28.63" height="28.70" fill="#e2e334"/>
<rect x="1718.94" y="463.00" width="28.63" height="28.70" fill="#fae62d"/>
<rect x="1747.27" y="463.00" width="28.63" height="28.70" fill="#e2e334"/>
<rect x="1577.30" y="491.40" width="28.63" height="28.70" fill="#5d4094"/>
<rect x="1605.63" y="491.40" width="28.63" height="28.70" fill="#5d4094"/>
<rect x="1633.96" y="491.40" width="28.63" height="28.70" fill="#b1dc49"/>
<rect x="1662.29" y="491.40" width="28.63" height="28.70" fill="#5acd78"/>
<rect x="1690.61" y="491.40" width="28.63" height="28.70" fill="#98d858"/>
<rect x="1718.94" y="491.40" width="28.63" height="28.70" fill="#61328a"/>
<rect x="1747.27" y="491.40" width="28.63" height="28.70" fill="#e2e334"/>
<path d="M1605.63 65.40V519.80M1633.96 65.40V519.80M1662.29 65.40V519.80M1690.61 65.40V519.80M1718.94 65.40V519.80M1747.27 65.40V519.80M1577.30 93.80H1775.60M1577.30 122.20H1775.60M1577.30 150.60H1775.60M1577.30 179.00H1775.60M1577.30 207.40H1775.60M1577.30 235.80H1775.60M1577.30 264.20H1775.60M1577.30 292.60H1775.60M1577.30 321.00H1775.60M1577.30 349.40H1775.60M1577.30 377.80H1775.60M1577.30 406.20H1775.60M1577.30 434.60H1775.60M1577.30 463.00H1775.60M1577.30 491.40H1775.60" stroke="#06021a" stroke-width="2" fill="none"/>
<rect x="1577.30" y="65.40" width="198.30" height="454.40" fill="none" stroke="#000" stroke-width="2.8"/>
<line x1="1543.00" y1="206.00" x2="1777.00" y2="206.00" stroke="#000" stroke-width="6.9" stroke-linecap="butt"/>
<line x1="1543.00" y1="348.60" x2="1777.00" y2="348.60" stroke="#000" stroke-width="6.9" stroke-linecap="butt"/>
<line x1="1543.00" y1="434.70" x2="1777.00" y2="434.70" stroke="#000" stroke-width="6.9" stroke-linecap="butt"/>
</g>
<line x1="1591.46" y1="519.80" x2="1591.46" y2="528.10" stroke="#000" stroke-width="2.6" stroke-linecap="butt"/>
<text x="1591.46" y="551.30" text-anchor="middle" style="font-size:24.8px;">1</text>
<line x1="1619.79" y1="519.80" x2="1619.79" y2="528.10" stroke="#000" stroke-width="2.6" stroke-linecap="butt"/>
<text x="1619.79" y="551.30" text-anchor="middle" style="font-size:24.8px;">2</text>
<line x1="1648.12" y1="519.80" x2="1648.12" y2="528.10" stroke="#000" stroke-width="2.6" stroke-linecap="butt"/>
<text x="1648.12" y="551.30" text-anchor="middle" style="font-size:24.8px;">3</text>
<line x1="1676.45" y1="519.80" x2="1676.45" y2="528.10" stroke="#000" stroke-width="2.6" stroke-linecap="butt"/>
<text x="1676.45" y="551.30" text-anchor="middle" style="font-size:24.8px;">4</text>
<line x1="1704.78" y1="519.80" x2="1704.78" y2="528.10" stroke="#000" stroke-width="2.6" stroke-linecap="butt"/>
<text x="1704.78" y="551.30" text-anchor="middle" style="font-size:24.8px;">5</text>
<line x1="1733.11" y1="519.80" x2="1733.11" y2="528.10" stroke="#000" stroke-width="2.6" stroke-linecap="butt"/>
<text x="1733.11" y="551.30" text-anchor="middle" style="font-size:24.8px;">6</text>
<line x1="1761.44" y1="519.80" x2="1761.44" y2="528.10" stroke="#000" stroke-width="2.6" stroke-linecap="butt"/>
<text x="1761.44" y="551.30" text-anchor="middle" style="font-size:24.8px;">7</text>
<text x="1676.45" y="584.10" text-anchor="middle" style="font-size:28.5px;">Time (days)</text>
<text x="1675.45" y="44.00" text-anchor="middle" style="font-size:26.5px;font-style:italic;"><tspan>Hdc</tspan><tspan dx="-1.2" dy="-9.8" style="font-size:19.4px">-/-</tspan></text>
<line x1="1486.90" y1="80.30" x2="1486.90" y2="334.00" stroke="#000" stroke-width="2.7" stroke-linecap="butt"/>
<line x1="1490.50" y1="355.00" x2="1490.50" y2="537.00" stroke="#000" stroke-width="2.6" stroke-linecap="butt"/>
<text x="0" y="0" text-anchor="middle" style="font-size:26px;" transform="translate(1470.80,217.00) rotate(-90)" letter-spacing="0.45px">OVA-alum</text>
<text x="0" y="0" text-anchor="middle" style="font-size:26px;" transform="translate(1475.00,445.00) rotate(-90)" letter-spacing="0.45px">alum</text>
<text x="0" y="0" text-anchor="middle" style="font-size:25.2px;font-style:italic;" transform="translate(1567.50,133.00) rotate(-90)"><tspan>Hdc</tspan><tspan dx="-1.2" dy="-9.5" style="font-size:18.6px">-/-</tspan></text>
<text x="0" y="0" text-anchor="middle" style="font-size:25.2px;font-style:italic;" transform="translate(1567.50,280.00) rotate(-90)"><tspan>Hdc</tspan><tspan dx="-1.2" dy="-9.5" style="font-size:18.6px">+/+</tspan></text>
<text x="0" y="0" text-anchor="end" style="font-size:25.2px;font-style:italic;" transform="translate(1574.00,385.00) rotate(-47)"><tspan>Hdc</tspan><tspan dx="-1.2" dy="-9.5" style="font-size:18.6px">-/-</tspan></text>
<text x="0" y="0" text-anchor="end" style="font-size:25.2px;font-style:italic;" transform="translate(1570.00,472.00) rotate(-48)"><tspan>Hdc</tspan><tspan dx="-1.2" dy="-9.5" style="font-size:18.6px">+/+</tspan></text>
<defs><linearGradient id="vir" x1="0" y1="1" x2="0" y2="0"><stop offset="0" stop-color="#440154"/><stop offset="0.1" stop-color="#482475"/><stop offset="0.2" stop-color="#414487"/><stop offset="0.3" stop-color="#355f8d"/><stop offset="0.4" stop-color="#2a788e"/><stop offset="0.5" stop-color="#21918c"/><stop offset="0.6" stop-color="#22a884"/><stop offset="0.7" stop-color="#44bf70"/><stop offset="0.8" stop-color="#7ad151"/><stop offset="0.9" stop-color="#bddf26"/><stop offset="1" stop-color="#fde725"/></linearGradient></defs>
<rect x="1821.5" y="131" width="38.0" height="170.5" fill="url(#vir)" stroke="#000" stroke-width="2.6"/>
<text x="1866.00" y="310.50" text-anchor="start" style="font-size:23px;">0</text>
<line x1="1821.50" y1="258.88" x2="1828.50" y2="258.88" stroke="#000" stroke-width="2" stroke-linecap="butt"/>
<line x1="1852.50" y1="258.88" x2="1859.50" y2="258.88" stroke="#000" stroke-width="2" stroke-linecap="butt"/>
<text x="1866.00" y="267.88" text-anchor="start" style="font-size:23px;">25</text>
<line x1="1821.50" y1="216.25" x2="1828.50" y2="216.25" stroke="#000" stroke-width="2" stroke-linecap="butt"/>
<line x1="1852.50" y1="216.25" x2="1859.50" y2="216.25" stroke="#000" stroke-width="2" stroke-linecap="butt"/>
<text x="1866.00" y="225.25" text-anchor="start" style="font-size:23px;">50</text>
<line x1="1821.50" y1="173.62" x2="1828.50" y2="173.62" stroke="#000" stroke-width="2" stroke-linecap="butt"/>
<line x1="1852.50" y1="173.62" x2="1859.50" y2="173.62" stroke="#000" stroke-width="2" stroke-linecap="butt"/>
<text x="1866.00" y="182.62" text-anchor="start" style="font-size:23px;">75</text>
<text x="1866.00" y="140.00" text-anchor="start" style="font-size:23px;">100</text>
<text x="1847.00" y="88.00" text-anchor="middle" style="font-size:23.5px;">% egg</text>
<text x="1848.00" y="114.50" text-anchor="middle" style="font-size:23.5px;">white water</text>
<line x1="150.10" y1="1472.15" x2="150.10" y2="1738.65" stroke="#000" stroke-width="2.9" stroke-linecap="butt"/>
<line x1="148.65" y1="1737.20" x2="357.80" y2="1737.20" stroke="#000" stroke-width="2.9" stroke-linecap="butt"/>
<line x1="145.45" y1="1737.20" x2="150.10" y2="1737.20" stroke="#000" stroke-width="2.6" stroke-linecap="butt"/>
<text x="142.90" y="1743.20" text-anchor="end" style="font-size:25.5px;">0</text>
<line x1="145.45" y1="1671.30" x2="150.10" y2="1671.30" stroke="#000" stroke-width="2.6" stroke-linecap="butt"/>
<text x="142.90" y="1677.30" text-anchor="end" style="font-size:25.5px;">25</text>
<line x1="145.45" y1="1605.40" x2="150.10" y2="1605.40" stroke="#000" stroke-width="2.6" stroke-linecap="butt"/>
<text x="142.90" y="1611.40" text-anchor="end" style="font-size:25.5px;">50</text>
<line x1="145.45" y1="1539.50" x2="150.10" y2="1539.50" stroke="#000" stroke-width="2.6" stroke-linecap="butt"/>
<text x="142.90" y="1545.50" text-anchor="end" style="font-size:25.5px;">75</text>
<line x1="145.45" y1="1473.60" x2="150.10" y2="1473.60" stroke="#000" stroke-width="2.6" stroke-linecap="butt"/>
<text x="142.90" y="1479.60" text-anchor="end" style="font-size:25.5px;">100</text>
<line x1="180.80" y1="1737.20" x2="180.80" y2="1741.85" stroke="#000" stroke-width="2.9" stroke-linecap="butt"/>
<line x1="228.50" y1="1737.20" x2="228.50" y2="1741.85" stroke="#000" stroke-width="2.9" stroke-linecap="butt"/>
<line x1="276.90" y1="1737.20" x2="276.90" y2="1741.85" stroke="#000" stroke-width="2.9" stroke-linecap="butt"/>
<line x1="325.10" y1="1737.20" x2="325.10" y2="1741.85" stroke="#000" stroke-width="2.9" stroke-linecap="butt"/>
<text x="0" y="0" text-anchor="middle" style="font-size:25.2px;" transform="translate(60.50,1605.00) rotate(-90)">Average daily egg white</text>
<text x="0" y="0" text-anchor="middle" style="font-size:25.2px;" transform="translate(92.50,1605.00) rotate(-90)">water intake (%)</text>
<circle cx="177.50" cy="1483.94" r="4.95" fill="#a6a6a6" stroke="#111" stroke-width="1.5"/>
<circle cx="170.73" cy="1492.72" r="4.95" fill="#a6a6a6" stroke="#111" stroke-width="1.5"/>
<circle cx="192.07" cy="1493.98" r="4.95" fill="#a6a6a6" stroke="#111" stroke-width="1.5"/>
<circle cx="178.26" cy="1497.75" r="4.95" fill="#a6a6a6" stroke="#111" stroke-width="1.5"/>
<circle cx="184.53" cy="1501.51" r="4.95" fill="#a6a6a6" stroke="#111" stroke-width="1.5"/>
<circle cx="180.77" cy="1632.82" r="4.95" fill="#a6a6a6" stroke="#111" stroke-width="1.5"/>
<circle cx="180.77" cy="1654.66" r="4.95" fill="#a6a6a6" stroke="#111" stroke-width="1.5"/>
<circle cx="180.77" cy="1664.70" r="4.95" fill="#a6a6a6" stroke="#111" stroke-width="1.5"/>
<rect x="213.63" y="1496.21" width="9.6" height="9.6" fill="#a6a6a6" stroke="#111" stroke-width="1.5"/>
<rect x="234.97" y="1490.94" width="9.6" height="9.6" fill="#a6a6a6" stroke="#111" stroke-width="1.5"/>
<rect x="234.97" y="1500.98" width="9.6" height="9.6" fill="#a6a6a6" stroke="#111" stroke-width="1.5"/>
<rect x="213.63" y="1511.27" width="9.6" height="9.6" fill="#a6a6a6" stroke="#111" stroke-width="1.5"/>
<rect x="234.97" y="1516.04" width="9.6" height="9.6" fill="#a6a6a6" stroke="#111" stroke-width="1.5"/>
<rect x="224.42" y="1560.73" width="9.6" height="9.6" fill="#a6a6a6" stroke="#111" stroke-width="1.5"/>
<rect x="224.42" y="1580.82" width="9.6" height="9.6" fill="#a6a6a6" stroke="#111" stroke-width="1.5"/>
<rect x="224.42" y="1671.96" width="9.6" height="9.6" fill="#a6a6a6" stroke="#111" stroke-width="1.5"/>
<circle cx="277.43" cy="1571.06" r="4.95" fill="#f47e7e" stroke="#1a0505" stroke-width="1.5"/>
<circle cx="277.43" cy="1609.97" r="4.95" fill="#f47e7e" stroke="#1a0505" stroke-width="1.5"/>
<circle cx="282.95" cy="1639.60" r="4.95" fill="#f47e7e" stroke="#1a0505" stroke-width="1.5"/>
<circle cx="276.93" cy="1647.13" r="4.95" fill="#f47e7e" stroke="#1a0505" stroke-width="1.5"/>
<circle cx="287.47" cy="1668.97" r="4.95" fill="#f47e7e" stroke="#1a0505" stroke-width="1.5"/>
<circle cx="266.63" cy="1673.99" r="4.95" fill="#f47e7e" stroke="#1a0505" stroke-width="1.5"/>
<circle cx="282.45" cy="1675.50" r="4.95" fill="#f47e7e" stroke="#1a0505" stroke-width="1.5"/>
<circle cx="276.17" cy="1679.02" r="4.95" fill="#f47e7e" stroke="#1a0505" stroke-width="1.5"/>
<circle cx="271.91" cy="1698.60" r="4.95" fill="#f47e7e" stroke="#1a0505" stroke-width="1.5"/>
<circle cx="281.70" cy="1699.85" r="4.95" fill="#f47e7e" stroke="#1a0505" stroke-width="1.5"/>
<circle cx="266.63" cy="1703.62" r="4.95" fill="#f47e7e" stroke="#1a0505" stroke-width="1.5"/>
<circle cx="276.93" cy="1703.12" r="4.95" fill="#f47e7e" stroke="#1a0505" stroke-width="1.5"/>
<circle cx="287.97" cy="1706.13" r="4.95" fill="#f47e7e" stroke="#1a0505" stroke-width="1.5"/>
<rect x="326.11" y="1618.48" width="9.6" height="9.6" fill="#f47e7e" stroke="#1a0505" stroke-width="1.5"/>
<rect x="320.83" y="1626.51" width="9.6" height="9.6" fill="#f47e7e" stroke="#1a0505" stroke-width="1.5"/>
<rect x="326.11" y="1657.39" width="9.6" height="9.6" fill="#f47e7e" stroke="#1a0505" stroke-width="1.5"/>
<rect x="315.31" y="1666.18" width="9.6" height="9.6" fill="#f47e7e" stroke="#1a0505" stroke-width="1.5"/>
<rect x="331.63" y="1664.93" width="9.6" height="9.6" fill="#f47e7e" stroke="#1a0505" stroke-width="1.5"/>
<rect x="326.11" y="1666.68" width="9.6" height="9.6" fill="#f47e7e" stroke="#1a0505" stroke-width="1.5"/>
<rect x="320.83" y="1672.46" width="9.6" height="9.6" fill="#f47e7e" stroke="#1a0505" stroke-width="1.5"/>
<rect x="315.31" y="1685.51" width="9.6" height="9.6" fill="#f47e7e" stroke="#1a0505" stroke-width="1.5"/>
<rect x="331.63" y="1685.01" width="9.6" height="9.6" fill="#f47e7e" stroke="#1a0505" stroke-width="1.5"/>
<rect x="320.83" y="1691.29" width="9.6" height="9.6" fill="#f47e7e" stroke="#1a0505" stroke-width="1.5"/>
<rect x="309.79" y="1696.31" width="9.6" height="9.6" fill="#f47e7e" stroke="#1a0505" stroke-width="1.5"/>
<rect x="331.63" y="1697.57" width="9.6" height="9.6" fill="#f47e7e" stroke="#1a0505" stroke-width="1.5"/>
<line x1="165.20" y1="1499.00" x2="197.09" y2="1499.00" stroke="#000" stroke-width="2.4" stroke-linecap="butt"/>
<line x1="213.41" y1="1518.58" x2="245.54" y2="1518.58" stroke="#000" stroke-width="2.4" stroke-linecap="butt"/>
<line x1="261.11" y1="1674.25" x2="293.25" y2="1674.25" stroke="#000" stroke-width="2.4" stroke-linecap="butt"/>
<line x1="309.31" y1="1677.51" x2="341.45" y2="1677.51" stroke="#000" stroke-width="2.4" stroke-linecap="butt"/>
<text x="275.40" y="1390.60" text-anchor="middle" style="font-size:21.5px;">&lt;0.0001</text>
<path d="M228.50 1408.70V1398.70H325.60V1408.70" fill="none" stroke="#7c7c7c" stroke-width="1.2"/>
<text x="226.00" y="1434.60" text-anchor="middle" style="font-size:21.5px;">&lt;0.0001</text>
<text x="305.80" y="1434.60" text-anchor="middle" style="font-size:21.5px;">0.9752</text>
<path d="M180.80 1452.00V1441.40H271.90V1452.00" fill="none" stroke="#7c7c7c" stroke-width="1.2"/>
<path d="M282.50 1452.00V1441.40H325.60V1452.00" fill="none" stroke="#7c7c7c" stroke-width="1.2"/>
<text x="0" y="0" text-anchor="end" style="font-size:26.3px;font-style:italic;" transform="translate(191.80,1759.20) rotate(-45)"><tspan>Cpa3</tspan><tspan dx="2.2" dy="-9.8" style="font-size:19px">+/+</tspan></text>
<text x="0" y="0" text-anchor="end" style="font-size:26.3px;font-style:italic;" transform="translate(239.50,1759.20) rotate(-45)"><tspan>Cpa3</tspan><tspan dx="2.2" dy="-9.8" style="font-size:19px">Y356L,E378A</tspan></text>
<text x="0" y="0" text-anchor="end" style="font-size:26.3px;font-style:italic;" transform="translate(287.90,1759.20) rotate(-45)"><tspan>Cpa3</tspan><tspan dx="2.2" dy="-9.8" style="font-size:19px">+/+</tspan></text>
<text x="0" y="0" text-anchor="end" style="font-size:26.3px;font-style:italic;" transform="translate(336.10,1759.20) rotate(-45)"><tspan>Cpa3</tspan><tspan dx="2.2" dy="-9.8" style="font-size:19px">Y356L,E378A</tspan></text>
<line x1="83.40" y1="1897.00" x2="164.40" y2="1897.00" stroke="#000" stroke-width="1.8" stroke-linecap="butt"/>
<text x="123.50" y="1922.00" text-anchor="middle" style="font-size:25.7px;">alum</text>
<line x1="180.30" y1="1897.00" x2="261.90" y2="1897.00" stroke="#000" stroke-width="1.8" stroke-linecap="butt"/>
<text x="221.70" y="1922.00" text-anchor="middle" style="font-size:25.7px;">OVA-alum</text>
<line x1="605.50" y1="1230.15" x2="605.50" y2="1494.15" stroke="#000" stroke-width="2.9" stroke-linecap="butt"/>
<line x1="604.05" y1="1492.70" x2="812.70" y2="1492.70" stroke="#000" stroke-width="2.9" stroke-linecap="butt"/>
<line x1="600.85" y1="1492.70" x2="605.50" y2="1492.70" stroke="#000" stroke-width="2.6" stroke-linecap="butt"/>
<text x="598.30" y="1498.70" text-anchor="end" style="font-size:25.5px;">0</text>
<line x1="600.85" y1="1427.42" x2="605.50" y2="1427.42" stroke="#000" stroke-width="2.6" stroke-linecap="butt"/>
<text x="598.30" y="1433.42" text-anchor="end" style="font-size:25.5px;">25</text>
<line x1="600.85" y1="1362.15" x2="605.50" y2="1362.15" stroke="#000" stroke-width="2.6" stroke-linecap="butt"/>
<text x="598.30" y="1368.15" text-anchor="end" style="font-size:25.5px;">50</text>
<line x1="600.85" y1="1296.88" x2="605.50" y2="1296.88" stroke="#000" stroke-width="2.6" stroke-linecap="butt"/>
<text x="598.30" y="1302.88" text-anchor="end" style="font-size:25.5px;">75</text>
<line x1="600.85" y1="1231.60" x2="605.50" y2="1231.60" stroke="#000" stroke-width="2.6" stroke-linecap="butt"/>
<text x="598.30" y="1237.60" text-anchor="end" style="font-size:25.5px;">100</text>
<line x1="636.90" y1="1492.70" x2="636.90" y2="1497.35" stroke="#000" stroke-width="2.9" stroke-linecap="butt"/>
<line x1="684.60" y1="1492.70" x2="684.60" y2="1497.35" stroke="#000" stroke-width="2.9" stroke-linecap="butt"/>
<line x1="732.80" y1="1492.70" x2="732.80" y2="1497.35" stroke="#000" stroke-width="2.9" stroke-linecap="butt"/>
<line x1="780.80" y1="1492.70" x2="780.80" y2="1497.35" stroke="#000" stroke-width="2.9" stroke-linecap="butt"/>
<text x="0" y="0" text-anchor="middle" style="font-size:25.2px;" transform="translate(520.50,1362.00) rotate(-90)">Average daily egg white</text>
<text x="0" y="0" text-anchor="middle" style="font-size:25.2px;" transform="translate(553.00,1362.00) rotate(-90)">water intake (%)</text>
<circle cx="636.92" cy="1243.69" r="4.95" fill="#a6a6a6" stroke="#111" stroke-width="1.5"/>
<circle cx="636.92" cy="1259.51" r="4.95" fill="#a6a6a6" stroke="#111" stroke-width="1.5"/>
<circle cx="626.12" cy="1300.18" r="4.95" fill="#a6a6a6" stroke="#111" stroke-width="1.5"/>
<circle cx="647.71" cy="1301.44" r="4.95" fill="#a6a6a6" stroke="#111" stroke-width="1.5"/>
<circle cx="636.92" cy="1313.74" r="4.95" fill="#a6a6a6" stroke="#111" stroke-width="1.5"/>
<circle cx="636.92" cy="1327.80" r="4.95" fill="#a6a6a6" stroke="#111" stroke-width="1.5"/>
<circle cx="636.92" cy="1459.36" r="4.95" fill="#a6a6a6" stroke="#111" stroke-width="1.5"/>
<rect x="680.32" y="1230.61" width="9.6" height="9.6" fill="#a6a6a6" stroke="#111" stroke-width="1.5"/>
<rect x="669.27" y="1309.19" width="9.6" height="9.6" fill="#a6a6a6" stroke="#111" stroke-width="1.5"/>
<rect x="690.62" y="1309.19" width="9.6" height="9.6" fill="#a6a6a6" stroke="#111" stroke-width="1.5"/>
<rect x="680.32" y="1322.24" width="9.6" height="9.6" fill="#a6a6a6" stroke="#111" stroke-width="1.5"/>
<rect x="669.27" y="1454.56" width="9.6" height="9.6" fill="#a6a6a6" stroke="#111" stroke-width="1.5"/>
<rect x="690.62" y="1453.55" width="9.6" height="9.6" fill="#a6a6a6" stroke="#111" stroke-width="1.5"/>
<circle cx="731.07" cy="1438.27" r="4.95" fill="#f47e7e" stroke="#1a0505" stroke-width="1.5"/>
<circle cx="734.33" cy="1438.77" r="4.95" fill="#f47e7e" stroke="#1a0505" stroke-width="1.5"/>
<circle cx="732.82" cy="1448.31" r="4.95" fill="#f47e7e" stroke="#1a0505" stroke-width="1.5"/>
<circle cx="727.30" cy="1454.59" r="4.95" fill="#f47e7e" stroke="#1a0505" stroke-width="1.5"/>
<circle cx="738.60" cy="1456.34" r="4.95" fill="#f47e7e" stroke="#1a0505" stroke-width="1.5"/>
<circle cx="722.28" cy="1458.35" r="4.95" fill="#f47e7e" stroke="#1a0505" stroke-width="1.5"/>
<circle cx="732.32" cy="1459.36" r="4.95" fill="#f47e7e" stroke="#1a0505" stroke-width="1.5"/>
<circle cx="741.11" cy="1458.86" r="4.95" fill="#f47e7e" stroke="#1a0505" stroke-width="1.5"/>
<circle cx="721.53" cy="1461.87" r="4.95" fill="#f47e7e" stroke="#1a0505" stroke-width="1.5"/>
<circle cx="728.56" cy="1462.12" r="4.95" fill="#f47e7e" stroke="#1a0505" stroke-width="1.5"/>
<circle cx="736.09" cy="1463.88" r="4.95" fill="#f47e7e" stroke="#1a0505" stroke-width="1.5"/>
<circle cx="743.12" cy="1462.12" r="4.95" fill="#f47e7e" stroke="#1a0505" stroke-width="1.5"/>
<rect x="778.24" y="1432.71" width="9.6" height="9.6" fill="#f47e7e" stroke="#1a0505" stroke-width="1.5"/>
<rect x="773.97" y="1435.23" width="9.6" height="9.6" fill="#f47e7e" stroke="#1a0505" stroke-width="1.5"/>
<rect x="770.20" y="1449.03" width="9.6" height="9.6" fill="#f47e7e" stroke="#1a0505" stroke-width="1.5"/>
<rect x="782.76" y="1449.79" width="9.6" height="9.6" fill="#f47e7e" stroke="#1a0505" stroke-width="1.5"/>
<rect x="763.93" y="1452.05" width="9.6" height="9.6" fill="#f47e7e" stroke="#1a0505" stroke-width="1.5"/>
<rect x="776.48" y="1453.55" width="9.6" height="9.6" fill="#f47e7e" stroke="#1a0505" stroke-width="1.5"/>
<rect x="787.78" y="1457.32" width="9.6" height="9.6" fill="#f47e7e" stroke="#1a0505" stroke-width="1.5"/>
<rect x="766.44" y="1457.32" width="9.6" height="9.6" fill="#f47e7e" stroke="#1a0505" stroke-width="1.5"/>
<rect x="773.97" y="1459.08" width="9.6" height="9.6" fill="#f47e7e" stroke="#1a0505" stroke-width="1.5"/>
<rect x="763.93" y="1464.10" width="9.6" height="9.6" fill="#f47e7e" stroke="#1a0505" stroke-width="1.5"/>
<rect x="782.00" y="1465.35" width="9.6" height="9.6" fill="#f47e7e" stroke="#1a0505" stroke-width="1.5"/>
<line x1="621.10" y1="1300.68" x2="653.24" y2="1300.68" stroke="#000" stroke-width="2.4" stroke-linecap="butt"/>
<line x1="668.80" y1="1320.27" x2="700.94" y2="1320.27" stroke="#000" stroke-width="2.4" stroke-linecap="butt"/>
<line x1="716.76" y1="1456.85" x2="748.64" y2="1456.85" stroke="#000" stroke-width="2.4" stroke-linecap="butt"/>
<line x1="764.96" y1="1457.60" x2="796.85" y2="1457.60" stroke="#000" stroke-width="2.4" stroke-linecap="butt"/>
<text x="733.60" y="1160.00" text-anchor="middle" style="font-size:21.5px;">0.0010</text>
<path d="M684.60 1179.70V1168.40H782.50V1179.70" fill="none" stroke="#7c7c7c" stroke-width="1.2"/>
<text x="680.00" y="1203.50" text-anchor="middle" style="font-size:21.5px;">&lt;0.0001</text>
<text x="760.00" y="1203.50" text-anchor="middle" style="font-size:21.5px;">0.9994</text>
<path d="M636.40 1222.40V1212.00H727.80V1222.40" fill="none" stroke="#7c7c7c" stroke-width="1.2"/>
<path d="M737.30 1222.40V1212.00H782.50V1222.40" fill="none" stroke="#7c7c7c" stroke-width="1.2"/>
<text x="0" y="0" text-anchor="end" style="font-size:26.3px;font-style:italic;" transform="translate(647.90,1514.70) rotate(-45)"><tspan>Cpa3</tspan><tspan dx="2.2" dy="-9.8" style="font-size:19px">+/+</tspan></text>
<text x="0" y="0" text-anchor="end" style="font-size:26.3px;font-style:italic;" transform="translate(695.60,1514.70) rotate(-45)"><tspan>Cpa3</tspan><tspan dx="2.2" dy="-9.8" style="font-size:19px">-/-</tspan></text>
<text x="0" y="0" text-anchor="end" style="font-size:26.3px;font-style:italic;" transform="translate(743.80,1514.70) rotate(-45)"><tspan>Cpa3</tspan><tspan dx="2.2" dy="-9.8" style="font-size:19px">+/+</tspan></text>
<text x="0" y="0" text-anchor="end" style="font-size:26.3px;font-style:italic;" transform="translate(791.80,1514.70) rotate(-45)"><tspan>Cpa3</tspan><tspan dx="2.2" dy="-9.8" style="font-size:19px">-/-</tspan></text>
<line x1="570.90" y1="1588.90" x2="652.70" y2="1588.90" stroke="#000" stroke-width="1.8" stroke-linecap="butt"/>
<text x="611.30" y="1613.70" text-anchor="middle" style="font-size:25.7px;">alum</text>
<line x1="667.80" y1="1588.90" x2="749.40" y2="1588.90" stroke="#000" stroke-width="1.8" stroke-linecap="butt"/>
<text x="709.20" y="1613.70" text-anchor="middle" style="font-size:25.7px;">OVA-alum</text>
<line x1="1095.60" y1="870.75" x2="1095.60" y2="1137.25" stroke="#000" stroke-width="2.9" stroke-linecap="butt"/>
<line x1="1094.15" y1="1135.80" x2="1303.50" y2="1135.80" stroke="#000" stroke-width="2.9" stroke-linecap="butt"/>
<line x1="1090.95" y1="1135.80" x2="1095.60" y2="1135.80" stroke="#000" stroke-width="2.6" stroke-linecap="butt"/>
<text x="1088.40" y="1141.80" text-anchor="end" style="font-size:25.5px;">0</text>
<line x1="1090.95" y1="1069.90" x2="1095.60" y2="1069.90" stroke="#000" stroke-width="2.6" stroke-linecap="butt"/>
<text x="1088.40" y="1075.90" text-anchor="end" style="font-size:25.5px;">25</text>
<line x1="1090.95" y1="1004.00" x2="1095.60" y2="1004.00" stroke="#000" stroke-width="2.6" stroke-linecap="butt"/>
<text x="1088.40" y="1010.00" text-anchor="end" style="font-size:25.5px;">50</text>
<line x1="1090.95" y1="938.10" x2="1095.60" y2="938.10" stroke="#000" stroke-width="2.6" stroke-linecap="butt"/>
<text x="1088.40" y="944.10" text-anchor="end" style="font-size:25.5px;">75</text>
<line x1="1090.95" y1="872.20" x2="1095.60" y2="872.20" stroke="#000" stroke-width="2.6" stroke-linecap="butt"/>
<text x="1088.40" y="878.20" text-anchor="end" style="font-size:25.5px;">100</text>
<line x1="1126.50" y1="1135.80" x2="1126.50" y2="1140.45" stroke="#000" stroke-width="2.9" stroke-linecap="butt"/>
<line x1="1174.70" y1="1135.80" x2="1174.70" y2="1140.45" stroke="#000" stroke-width="2.9" stroke-linecap="butt"/>
<line x1="1222.90" y1="1135.80" x2="1222.90" y2="1140.45" stroke="#000" stroke-width="2.9" stroke-linecap="butt"/>
<line x1="1271.30" y1="1135.80" x2="1271.30" y2="1140.45" stroke="#000" stroke-width="2.9" stroke-linecap="butt"/>
<text x="0" y="0" text-anchor="middle" style="font-size:25.2px;" transform="translate(1005.50,1004.00) rotate(-90)">Average daily egg white</text>
<text x="0" y="0" text-anchor="middle" style="font-size:25.2px;" transform="translate(1038.00,1004.00) rotate(-90)">water intake (%)</text>
<circle cx="1126.96" cy="905.62" r="4.95" fill="#a6a6a6" stroke="#111" stroke-width="1.5"/>
<circle cx="1126.96" cy="1014.83" r="4.95" fill="#a6a6a6" stroke="#111" stroke-width="1.5"/>
<rect x="1159.32" y="921.41" width="9.6" height="9.6" fill="#a6a6a6" stroke="#111" stroke-width="1.5"/>
<rect x="1181.16" y="917.14" width="9.6" height="9.6" fill="#a6a6a6" stroke="#111" stroke-width="1.5"/>
<rect x="1170.36" y="1013.80" width="9.6" height="9.6" fill="#a6a6a6" stroke="#111" stroke-width="1.5"/>
<rect x="1170.36" y="1094.64" width="9.6" height="9.6" fill="#a6a6a6" stroke="#111" stroke-width="1.5"/>
<circle cx="1223.12" cy="1039.44" r="4.95" fill="#f47e7e" stroke="#1a0505" stroke-width="1.5"/>
<circle cx="1233.66" cy="1078.35" r="4.95" fill="#f47e7e" stroke="#1a0505" stroke-width="1.5"/>
<circle cx="1212.32" cy="1088.40" r="4.95" fill="#f47e7e" stroke="#1a0505" stroke-width="1.5"/>
<circle cx="1233.66" cy="1100.95" r="4.95" fill="#f47e7e" stroke="#1a0505" stroke-width="1.5"/>
<circle cx="1212.32" cy="1108.48" r="4.95" fill="#f47e7e" stroke="#1a0505" stroke-width="1.5"/>
<rect x="1266.52" y="1072.05" width="9.6" height="9.6" fill="#f47e7e" stroke="#1a0505" stroke-width="1.5"/>
<rect x="1261.00" y="1082.84" width="9.6" height="9.6" fill="#f47e7e" stroke="#1a0505" stroke-width="1.5"/>
<rect x="1255.23" y="1088.62" width="9.6" height="9.6" fill="#f47e7e" stroke="#1a0505" stroke-width="1.5"/>
<rect x="1277.32" y="1088.62" width="9.6" height="9.6" fill="#f47e7e" stroke="#1a0505" stroke-width="1.5"/>
<rect x="1266.52" y="1091.63" width="9.6" height="9.6" fill="#f47e7e" stroke="#1a0505" stroke-width="1.5"/>
<rect x="1261.00" y="1095.40" width="9.6" height="9.6" fill="#f47e7e" stroke="#1a0505" stroke-width="1.5"/>
<rect x="1272.05" y="1097.91" width="9.6" height="9.6" fill="#f47e7e" stroke="#1a0505" stroke-width="1.5"/>
<rect x="1266.52" y="1102.93" width="9.6" height="9.6" fill="#f47e7e" stroke="#1a0505" stroke-width="1.5"/>
<rect x="1255.23" y="1104.69" width="9.6" height="9.6" fill="#f47e7e" stroke="#1a0505" stroke-width="1.5"/>
<rect x="1277.32" y="1107.95" width="9.6" height="9.6" fill="#f47e7e" stroke="#1a0505" stroke-width="1.5"/>
<line x1="1110.64" y1="960.10" x2="1142.78" y2="960.10" stroke="#000" stroke-width="2.4" stroke-linecap="butt"/>
<line x1="1158.85" y1="972.65" x2="1190.98" y2="972.65" stroke="#000" stroke-width="2.4" stroke-linecap="butt"/>
<line x1="1207.30" y1="1088.14" x2="1239.19" y2="1088.14" stroke="#000" stroke-width="2.4" stroke-linecap="butt"/>
<line x1="1255.51" y1="1097.69" x2="1287.64" y2="1097.69" stroke="#000" stroke-width="2.4" stroke-linecap="butt"/>
<text x="1224.90" y="792.60" text-anchor="middle" style="font-size:21.5px;">0.0031</text>
<path d="M1174.20 812.20V800.70H1271.30V812.20" fill="none" stroke="#7c7c7c" stroke-width="1.2"/>
<text x="1172.70" y="836.00" text-anchor="middle" style="font-size:21.5px;">0.0156</text>
<text x="1250.00" y="836.00" text-anchor="middle" style="font-size:21.5px;">0.9191</text>
<path d="M1126.20 855.40V844.90H1217.30V855.40" fill="none" stroke="#7c7c7c" stroke-width="1.2"/>
<path d="M1228.60 855.40V844.90H1271.30V855.40" fill="none" stroke="#7c7c7c" stroke-width="1.2"/>
<text x="0" y="0" text-anchor="end" style="font-size:26.3px;font-style:italic;" transform="translate(1137.50,1157.80) rotate(-45)"><tspan>Mcpt6</tspan><tspan dx="2.2" dy="-9.8" style="font-size:19px">+/+</tspan></text>
<text x="0" y="0" text-anchor="end" style="font-size:26.3px;font-style:italic;" transform="translate(1185.70,1157.80) rotate(-45)"><tspan>Mcpt6</tspan><tspan dx="2.2" dy="-9.8" style="font-size:19px">-/-</tspan></text>
<text x="0" y="0" text-anchor="end" style="font-size:26.3px;font-style:italic;" transform="translate(1233.90,1157.80) rotate(-45)"><tspan>Mcpt6</tspan><tspan dx="2.2" dy="-9.8" style="font-size:19px">+/+</tspan></text>
<text x="0" y="0" text-anchor="end" style="font-size:26.3px;font-style:italic;" transform="translate(1282.30,1157.80) rotate(-45)"><tspan>Mcpt6</tspan><tspan dx="2.2" dy="-9.8" style="font-size:19px">-/-</tspan></text>
<line x1="1052.90" y1="1240.00" x2="1134.50" y2="1240.00" stroke="#000" stroke-width="1.8" stroke-linecap="butt"/>
<text x="1093.00" y="1265.40" text-anchor="middle" style="font-size:25.7px;">alum</text>
<line x1="1149.60" y1="1240.00" x2="1231.20" y2="1240.00" stroke="#000" stroke-width="1.8" stroke-linecap="butt"/>
<text x="1191.50" y="1265.40" text-anchor="middle" style="font-size:25.7px;">OVA-alum</text>
<line x1="1577.60" y1="714.05" x2="1577.60" y2="978.05" stroke="#000" stroke-width="2.9" stroke-linecap="butt"/>
<line x1="1576.15" y1="976.60" x2="1784.70" y2="976.60" stroke="#000" stroke-width="2.9" stroke-linecap="butt"/>
<line x1="1572.95" y1="976.60" x2="1577.60" y2="976.60" stroke="#000" stroke-width="2.6" stroke-linecap="butt"/>
<text x="1570.40" y="982.60" text-anchor="end" style="font-size:25.5px;">0</text>
<line x1="1572.95" y1="911.33" x2="1577.60" y2="911.33" stroke="#000" stroke-width="2.6" stroke-linecap="butt"/>
<text x="1570.40" y="917.33" text-anchor="end" style="font-size:25.5px;">25</text>
<line x1="1572.95" y1="846.05" x2="1577.60" y2="846.05" stroke="#000" stroke-width="2.6" stroke-linecap="butt"/>
<text x="1570.40" y="852.05" text-anchor="end" style="font-size:25.5px;">50</text>
<line x1="1572.95" y1="780.77" x2="1577.60" y2="780.77" stroke="#000" stroke-width="2.6" stroke-linecap="butt"/>
<text x="1570.40" y="786.77" text-anchor="end" style="font-size:25.5px;">75</text>
<line x1="1572.95" y1="715.50" x2="1577.60" y2="715.50" stroke="#000" stroke-width="2.6" stroke-linecap="butt"/>
<text x="1570.40" y="721.50" text-anchor="end" style="font-size:25.5px;">100</text>
<line x1="1608.70" y1="976.60" x2="1608.70" y2="981.25" stroke="#000" stroke-width="2.9" stroke-linecap="butt"/>
<line x1="1656.40" y1="976.60" x2="1656.40" y2="981.25" stroke="#000" stroke-width="2.9" stroke-linecap="butt"/>
<line x1="1704.40" y1="976.60" x2="1704.40" y2="981.25" stroke="#000" stroke-width="2.9" stroke-linecap="butt"/>
<line x1="1752.60" y1="976.60" x2="1752.60" y2="981.25" stroke="#000" stroke-width="2.9" stroke-linecap="butt"/>
<text x="0" y="0" text-anchor="middle" style="font-size:25.2px;" transform="translate(1493.00,846.00) rotate(-90)">Average daily egg white</text>
<text x="0" y="0" text-anchor="middle" style="font-size:25.2px;" transform="translate(1525.50,846.00) rotate(-90)">water intake (%)</text>
<circle cx="1608.97" cy="733.07" r="4.95" fill="#a6a6a6" stroke="#111" stroke-width="1.5"/>
<circle cx="1608.97" cy="791.31" r="4.95" fill="#a6a6a6" stroke="#111" stroke-width="1.5"/>
<circle cx="1608.97" cy="827.97" r="4.95" fill="#a6a6a6" stroke="#111" stroke-width="1.5"/>
<rect x="1652.37" y="730.78" width="9.6" height="9.6" fill="#a6a6a6" stroke="#111" stroke-width="1.5"/>
<rect x="1652.37" y="834.22" width="9.6" height="9.6" fill="#a6a6a6" stroke="#111" stroke-width="1.5"/>
<rect x="1652.37" y="865.60" width="9.6" height="9.6" fill="#a6a6a6" stroke="#111" stroke-width="1.5"/>
<circle cx="1715.67" cy="921.37" r="4.95" fill="#f47e7e" stroke="#1a0505" stroke-width="1.5"/>
<circle cx="1694.33" cy="925.63" r="4.95" fill="#f47e7e" stroke="#1a0505" stroke-width="1.5"/>
<circle cx="1704.88" cy="927.64" r="4.95" fill="#f47e7e" stroke="#1a0505" stroke-width="1.5"/>
<circle cx="1715.67" cy="935.17" r="4.95" fill="#f47e7e" stroke="#1a0505" stroke-width="1.5"/>
<circle cx="1694.33" cy="940.20" r="4.95" fill="#f47e7e" stroke="#1a0505" stroke-width="1.5"/>
<rect x="1748.53" y="853.30" width="9.6" height="9.6" fill="#f47e7e" stroke="#1a0505" stroke-width="1.5"/>
<rect x="1744.01" y="933.64" width="9.6" height="9.6" fill="#f47e7e" stroke="#1a0505" stroke-width="1.5"/>
<rect x="1759.08" y="935.40" width="9.6" height="9.6" fill="#f47e7e" stroke="#1a0505" stroke-width="1.5"/>
<rect x="1751.54" y="938.66" width="9.6" height="9.6" fill="#f47e7e" stroke="#1a0505" stroke-width="1.5"/>
<rect x="1736.48" y="940.92" width="9.6" height="9.6" fill="#f47e7e" stroke="#1a0505" stroke-width="1.5"/>
<line x1="1593.15" y1="791.31" x2="1625.04" y2="791.31" stroke="#000" stroke-width="2.4" stroke-linecap="butt"/>
<line x1="1641.36" y1="839.02" x2="1672.99" y2="839.02" stroke="#000" stroke-width="2.4" stroke-linecap="butt"/>
<line x1="1689.06" y1="926.89" x2="1720.69" y2="926.89" stroke="#000" stroke-width="2.4" stroke-linecap="butt"/>
<line x1="1736.26" y1="940.20" x2="1768.40" y2="940.20" stroke="#000" stroke-width="2.4" stroke-linecap="butt"/>
<text x="1704.90" y="646.40" text-anchor="middle" style="font-size:21.5px;">0.0147</text>
<path d="M1656.40 665.30V654.50H1752.60V665.30" fill="none" stroke="#7c7c7c" stroke-width="1.2"/>
<text x="1655.90" y="690.40" text-anchor="middle" style="font-size:21.5px;">0.0019</text>
<text x="1730.00" y="690.40" text-anchor="middle" style="font-size:21.5px;">0.9974</text>
<path d="M1608.20 708.50V697.90H1699.90V708.50" fill="none" stroke="#7c7c7c" stroke-width="1.2"/>
<path d="M1708.60 708.50V697.90H1752.60V708.50" fill="none" stroke="#7c7c7c" stroke-width="1.2"/>
<text x="0" y="0" text-anchor="end" style="font-size:26.3px;font-style:italic;" transform="translate(1619.70,998.60) rotate(-45)"><tspan>Hdc</tspan><tspan dx="-1.2" dy="-9.8" style="font-size:19px">+/+</tspan></text>
<text x="0" y="0" text-anchor="end" style="font-size:26.3px;font-style:italic;" transform="translate(1667.40,998.60) rotate(-45)"><tspan>Hdc</tspan><tspan dx="-1.2" dy="-9.8" style="font-size:19px">-/-</tspan></text>
<text x="0" y="0" text-anchor="end" style="font-size:26.3px;font-style:italic;" transform="translate(1715.40,998.60) rotate(-45)"><tspan>Hdc</tspan><tspan dx="-1.2" dy="-9.8" style="font-size:19px">+/+</tspan></text>
<text x="0" y="0" text-anchor="end" style="font-size:26.3px;font-style:italic;" transform="translate(1763.60,998.60) rotate(-45)"><tspan>Hdc</tspan><tspan dx="-1.2" dy="-9.8" style="font-size:19px">-/-</tspan></text>
<line x1="1563.80" y1="1058.70" x2="1645.90" y2="1058.70" stroke="#000" stroke-width="1.8" stroke-linecap="butt"/>
<text x="1604.40" y="1084.00" text-anchor="middle" style="font-size:25.7px;">alum</text>
<line x1="1660.40" y1="1058.70" x2="1742.50" y2="1058.70" stroke="#000" stroke-width="1.8" stroke-linecap="butt"/>
<text x="1702.40" y="1084.00" text-anchor="middle" style="font-size:25.7px;">OVA-alum</text>
<text x="-2.00" y="1991.00" text-anchor="start" style="font-size:51.5px;font-weight:bold;">e</text>
<path d="M89.3 2134.1 L89.3 2134.1 L93.6 2133.4 L97.9 2132.0 L99.3 2133.7 L102.9 2132.7 L105.1 2128.4 L106.5 2132.0 L110.8 2130.5 L113.0 2121.9 L114.4 2124.8 L117.3 2116.9 L119.4 2116.2 L121.6 2105.4 L123.0 2107.6 L125.2 2097.5 L127.3 2099.0 L130.2 2078.9 L133.8 2078.6 L135.9 2067.4 L138.1 2047.3 L139.5 2043.0 L140.2 2063.1 L141.4 2021.5 L143.1 2033.0 L144.5 2050.2 L147.0 2022.2 L148.8 2028.7 L150.3 2027.2 L151.4 2057.3 L153.1 2043.0 L154.6 2053.0 L156.0 2037.3 L158.9 2036.5 L160.3 2047.3 L162.5 2053.0 L164.2 2043.7 L165.3 2063.1 L167.1 2047.3 L168.2 2064.5 L169.9 2045.2 L171.8 2058.8 L173.2 2067.4 L175.1 2060.9 L176.8 2070.3 L178.5 2073.8 L180.4 2068.1 L182.6 2068.8 L185.1 2058.1 L186.6 2078.1 L188.3 2061.6 L189.7 2070.3 L190.9 2058.8 L192.3 2076.0 L194.0 2073.1 L196.2 2063.1 L197.9 2052.3 L199.3 2077.4 L201.2 2063.1 L203.4 2059.5 L206.2 2060.2 L208.4 2066.0 L210.5 2057.3 L213.1 2050.2 L215.6 2057.3 L217.7 2068.8 L218.7 2054.5 L220.2 2070.3 L222.0 2058.8 L223.5 2059.5 L225.3 2053.0 L227.0 2044.4 L228.5 2063.1 L229.9 2047.3 L231.6 2057.3 L234.2 2053.0 L235.9 2058.8 L237.4 2055.9 L239.2 2067.4 L241.4 2057.3 L243.5 2051.6 L245.3 2045.9 L247.1 2054.5 L250.0 2054.5 L251.7 2066.0 L253.6 2051.6 L255.7 2057.3 L257.9 2048.7 L259.6 2041.6 L261.5 2058.8 L262.6 2077.4 L264.1 2060.2 L266.1 2057.3 L267.9 2052.3 L270.1 2055.9 L272.2 2055.2 L273.7 2078.9 L276.1 2066.0 L278.0 2081.7 L280.1 2074.6 L281.6 2078.9 L283.4 2071.7 L285.1 2077.4 L287.0 2096.1 L288.7 2081.7 L290.5 2101.8 L292.3 2093.2 L293.8 2107.6 L294.9 2096.1 L297.1 2111.9 L298.8 2114.7 L300.2 2101.8 L301.6 2116.2 L303.8 2113.3 L306.7 2112.6 L308.1 2119.0 L310.3 2113.3 L311.7 2123.3 L314.6 2126.2 L316.7 2129.1 L318.1 2127.6 L320.3 2132.0 L325.0 2133.7 L328.9 2134.1 L328.9 2134.1 Z" fill="#fad2a8" stroke="none"/>
<path d="M89.4 2132.6 L89.3 2134.1 L93.6 2133.4 L97.9 2132.0 L99.3 2133.7 L102.9 2132.7 L105.1 2128.4 L106.5 2132.0 L110.8 2130.5 L113.0 2121.9 L114.4 2124.8 L117.3 2116.9 L119.4 2116.2 L121.6 2105.4 L123.0 2107.6 L125.2 2097.5 L127.3 2099.0 L130.2 2078.9 L133.8 2078.6 L135.9 2067.4 L138.1 2047.3 L139.5 2043.0 L140.2 2063.1 L141.4 2021.5 L143.1 2033.0 L144.5 2050.2 L147.0 2022.2 L148.8 2028.7 L150.3 2027.2 L151.4 2057.3 L153.1 2043.0 L154.6 2053.0 L156.0 2037.3 L158.9 2036.5 L160.3 2047.3 L162.5 2053.0 L164.2 2043.7 L165.3 2063.1 L167.1 2047.3 L168.2 2064.5 L169.9 2045.2 L171.8 2058.8 L173.2 2067.4 L175.1 2060.9 L176.8 2070.3 L178.5 2073.8 L180.4 2068.1 L182.6 2068.8 L185.1 2058.1 L186.6 2078.1 L188.3 2061.6 L189.7 2070.3 L190.9 2058.8 L192.3 2076.0 L194.0 2073.1 L196.2 2063.1 L197.9 2052.3 L199.3 2077.4 L201.2 2063.1 L203.4 2059.5 L206.2 2060.2 L208.4 2066.0 L210.5 2057.3 L213.1 2050.2 L215.6 2057.3 L217.7 2068.8 L218.7 2054.5 L220.2 2070.3 L222.0 2058.8 L223.5 2059.5 L225.3 2053.0 L227.0 2044.4 L228.5 2063.1 L229.9 2047.3 L231.6 2057.3 L234.2 2053.0 L235.9 2058.8 L237.4 2055.9 L239.2 2067.4 L241.4 2057.3 L243.5 2051.6 L245.3 2045.9 L247.1 2054.5 L250.0 2054.5 L251.7 2066.0 L253.6 2051.6 L255.7 2057.3 L257.9 2048.7 L259.6 2041.6 L261.5 2058.8 L262.6 2077.4 L264.1 2060.2 L266.1 2057.3 L267.9 2052.3 L270.1 2055.9 L272.2 2055.2 L273.7 2078.9 L276.1 2066.0 L278.0 2081.7 L280.1 2074.6 L281.6 2078.9 L283.4 2071.7 L285.1 2077.4 L287.0 2096.1 L288.7 2081.7 L290.5 2101.8 L292.3 2093.2 L293.8 2107.6 L294.9 2096.1 L297.1 2111.9 L298.8 2114.7 L300.2 2101.8 L301.6 2116.2 L303.8 2113.3 L306.7 2112.6 L308.1 2119.0 L310.3 2113.3 L311.7 2123.3 L314.6 2126.2 L316.7 2129.1 L318.1 2127.6 L320.3 2132.0 L325.0 2133.7 L328.9 2134.1 L448.5 2134.1" fill="none" stroke="#f2983a" stroke-width="1.8" stroke-linejoin="round"/>
<path d="M89.2 2253.0 L89.2 2253.0 L94.2 2252.2 L96.7 2249.7 L100.9 2253.0 L103.4 2250.5 L107.6 2248.8 L111.8 2246.3 L113.5 2240.5 L115.1 2248.8 L117.6 2242.1 L119.3 2241.3 L122.7 2227.1 L124.8 2219.5 L126.8 2217.0 L128.8 2205.3 L130.5 2191.9 L132.2 2208.7 L133.5 2181.9 L135.5 2202.0 L137.7 2175.2 L139.4 2180.2 L141.9 2166.8 L143.9 2170.2 L146.1 2151.8 L147.8 2171.8 L149.4 2169.3 L151.6 2186.9 L153.3 2161.8 L155.0 2180.2 L156.6 2186.9 L158.6 2200.3 L161.2 2192.8 L163.7 2191.9 L165.7 2184.4 L167.3 2201.1 L168.7 2188.6 L170.7 2195.3 L172.4 2210.3 L174.0 2191.1 L175.7 2212.0 L177.9 2198.6 L180.4 2198.6 L182.1 2204.5 L183.7 2213.7 L185.4 2194.4 L187.4 2202.0 L189.1 2196.1 L191.3 2210.3 L193.5 2208.7 L195.0 2221.2 L196.8 2207.0 L198.8 2198.6 L201.3 2198.6 L203.5 2216.2 L205.8 2202.0 L208.5 2202.8 L210.5 2196.9 L213.0 2185.2 L214.7 2192.8 L217.2 2186.9 L219.7 2183.6 L221.9 2196.9 L224.2 2174.4 L227.3 2200.3 L229.8 2171.0 L232.3 2193.6 L234.8 2180.2 L236.5 2188.6 L239.8 2161.8 L242.3 2171.8 L244.0 2179.4 L246.0 2170.2 L248.2 2163.5 L249.9 2176.9 L251.5 2161.0 L253.2 2170.2 L255.4 2147.6 L257.4 2160.1 L259.9 2151.8 L261.1 2166.0 L263.7 2140.9 L265.8 2158.5 L269.1 2143.4 L271.6 2150.1 L275.0 2155.1 L277.5 2145.1 L279.1 2157.6 L280.8 2146.7 L283.3 2173.5 L285.0 2161.8 L286.7 2183.6 L288.8 2152.6 L290.5 2159.3 L293.0 2143.4 L294.7 2191.1 L297.2 2163.5 L299.2 2177.7 L301.7 2159.3 L303.4 2178.5 L305.6 2198.6 L306.3 2186.9 L308.4 2198.6 L310.9 2188.6 L312.9 2202.0 L315.1 2207.0 L317.6 2225.4 L321.0 2213.7 L322.3 2230.4 L325.2 2233.8 L327.7 2237.1 L329.0 2234.6 L331.9 2243.8 L333.0 2239.6 L335.2 2247.2 L337.7 2252.2 L340.2 2248.8 L342.7 2253.0 L346.9 2251.3 L349.4 2253.0 L357.8 2253.0 L357.8 2253.0 Z" fill="#a6e9fb" stroke="none"/>
<path d="M89.4 2251.5 L89.2 2253.0 L94.2 2252.2 L96.7 2249.7 L100.9 2253.0 L103.4 2250.5 L107.6 2248.8 L111.8 2246.3 L113.5 2240.5 L115.1 2248.8 L117.6 2242.1 L119.3 2241.3 L122.7 2227.1 L124.8 2219.5 L126.8 2217.0 L128.8 2205.3 L130.5 2191.9 L132.2 2208.7 L133.5 2181.9 L135.5 2202.0 L137.7 2175.2 L139.4 2180.2 L141.9 2166.8 L143.9 2170.2 L146.1 2151.8 L147.8 2171.8 L149.4 2169.3 L151.6 2186.9 L153.3 2161.8 L155.0 2180.2 L156.6 2186.9 L158.6 2200.3 L161.2 2192.8 L163.7 2191.9 L165.7 2184.4 L167.3 2201.1 L168.7 2188.6 L170.7 2195.3 L172.4 2210.3 L174.0 2191.1 L175.7 2212.0 L177.9 2198.6 L180.4 2198.6 L182.1 2204.5 L183.7 2213.7 L185.4 2194.4 L187.4 2202.0 L189.1 2196.1 L191.3 2210.3 L193.5 2208.7 L195.0 2221.2 L196.8 2207.0 L198.8 2198.6 L201.3 2198.6 L203.5 2216.2 L205.8 2202.0 L208.5 2202.8 L210.5 2196.9 L213.0 2185.2 L214.7 2192.8 L217.2 2186.9 L219.7 2183.6 L221.9 2196.9 L224.2 2174.4 L227.3 2200.3 L229.8 2171.0 L232.3 2193.6 L234.8 2180.2 L236.5 2188.6 L239.8 2161.8 L242.3 2171.8 L244.0 2179.4 L246.0 2170.2 L248.2 2163.5 L249.9 2176.9 L251.5 2161.0 L253.2 2170.2 L255.4 2147.6 L257.4 2160.1 L259.9 2151.8 L261.1 2166.0 L263.7 2140.9 L265.8 2158.5 L269.1 2143.4 L271.6 2150.1 L275.0 2155.1 L277.5 2145.1 L279.1 2157.6 L280.8 2146.7 L283.3 2173.5 L285.0 2161.8 L286.7 2183.6 L288.8 2152.6 L290.5 2159.3 L293.0 2143.4 L294.7 2191.1 L297.2 2163.5 L299.2 2177.7 L301.7 2159.3 L303.4 2178.5 L305.6 2198.6 L306.3 2186.9 L308.4 2198.6 L310.9 2188.6 L312.9 2202.0 L315.1 2207.0 L317.6 2225.4 L321.0 2213.7 L322.3 2230.4 L325.2 2233.8 L327.7 2237.1 L329.0 2234.6 L331.9 2243.8 L333.0 2239.6 L335.2 2247.2 L337.7 2252.2 L340.2 2248.8 L342.7 2253.0 L346.9 2251.3 L349.4 2253.0 L357.8 2253.0 L448.5 2253.0" fill="none" stroke="#1fb5e8" stroke-width="1.8" stroke-linejoin="round"/>
<path d="M105.2 2372.8 L106.9 2360.3 L109.3 2371.1 L112.3 2344.8 L114.7 2367.5 L117.7 2343.6 L120.1 2360.3 L122.5 2349.5 L124.9 2355.5 L127.9 2326.8 L129.1 2342.4 L131.5 2323.2 L132.1 2342.4 L133.2 2292.2 L136.2 2277.8 L137.4 2282.6 L139.2 2308.9 L142.8 2269.5 L145.0 2257.5 L146.4 2287.4 L148.2 2268.3 L150.6 2267.1 L151.8 2259.9 L153.0 2322.1 L154.2 2281.4 L158.4 2263.5 L160.1 2322.1 L163.1 2263.5 L166.7 2325.6 L168.5 2298.1 L171.5 2320.9 L172.7 2306.5 L174.5 2313.7 L175.4 2288.6 L176.9 2312.5 L178.7 2311.3 L181.1 2334.0 L182.9 2324.4 L184.7 2329.2 L187.6 2349.5 L192.4 2323.2 L194.8 2337.6 L196.6 2332.8 L197.8 2359.1 L199.6 2335.2 L202.0 2330.4 L205.0 2359.1 L206.8 2346.0 L208.6 2349.5 L209.8 2347.2 L212.7 2367.5 L215.7 2350.7 L216.9 2363.9 L219.3 2350.7 L221.7 2367.5 L223.5 2356.7 L225.3 2367.5 L230.1 2351.9 L233.1 2372.8 L239.6 2372.8 L241.2 2367.8 L242.8 2372.8 L246.2 2372.8 L247.8 2367.8 L249.4 2372.8 L256.7 2372.8 L258.3 2367.8 L259.9 2372.8 L277.8 2372.8 L279.3 2367.8 L280.9 2372.8 Z" fill="#f9acac" stroke="none"/>
<path d="M89.4 2372.8 L105.2 2372.8 L106.9 2360.3 L109.3 2371.1 L112.3 2344.8 L114.7 2367.5 L117.7 2343.6 L120.1 2360.3 L122.5 2349.5 L124.9 2355.5 L127.9 2326.8 L129.1 2342.4 L131.5 2323.2 L132.1 2342.4 L133.2 2292.2 L136.2 2277.8 L137.4 2282.6 L139.2 2308.9 L142.8 2269.5 L145.0 2257.5 L146.4 2287.4 L148.2 2268.3 L150.6 2267.1 L151.8 2259.9 L153.0 2322.1 L154.2 2281.4 L158.4 2263.5 L160.1 2322.1 L163.1 2263.5 L166.7 2325.6 L168.5 2298.1 L171.5 2320.9 L172.7 2306.5 L174.5 2313.7 L175.4 2288.6 L176.9 2312.5 L178.7 2311.3 L181.1 2334.0 L182.9 2324.4 L184.7 2329.2 L187.6 2349.5 L192.4 2323.2 L194.8 2337.6 L196.6 2332.8 L197.8 2359.1 L199.6 2335.2 L202.0 2330.4 L205.0 2359.1 L206.8 2346.0 L208.6 2349.5 L209.8 2347.2 L212.7 2367.5 L215.7 2350.7 L216.9 2363.9 L219.3 2350.7 L221.7 2367.5 L223.5 2356.7 L225.3 2367.5 L230.1 2351.9 L233.1 2372.8 L239.6 2372.8 L241.2 2367.8 L242.8 2372.8 L246.2 2372.8 L247.8 2367.8 L249.4 2372.8 L256.7 2372.8 L258.3 2367.8 L259.9 2372.8 L277.8 2372.8 L279.3 2367.8 L280.9 2372.8 L448.5 2372.8" fill="none" stroke="#ec3338" stroke-width="1.8" stroke-linejoin="round"/>
<rect x="89.4" y="2014.5" width="359.1" height="358.3" fill="none" stroke="#222" stroke-width="1"/>
<line x1="89.40" y1="2372.80" x2="448.50" y2="2372.80" stroke="#8a1c1c" stroke-width="1.3" stroke-linecap="butt"/>
<line x1="97.34" y1="2372.80" x2="97.34" y2="2382.40" stroke="#000" stroke-width="2.4" stroke-linecap="butt"/>
<line x1="129.43" y1="2372.80" x2="129.43" y2="2382.40" stroke="#000" stroke-width="2.4" stroke-linecap="butt"/>
<line x1="161.51" y1="2372.80" x2="161.51" y2="2382.40" stroke="#000" stroke-width="2.4" stroke-linecap="butt"/>
<line x1="247.79" y1="2372.80" x2="247.79" y2="2382.40" stroke="#000" stroke-width="2.4" stroke-linecap="butt"/>
<line x1="331.16" y1="2372.80" x2="331.16" y2="2382.40" stroke="#000" stroke-width="2.4" stroke-linecap="butt"/>
<line x1="413.49" y1="2372.80" x2="413.49" y2="2382.40" stroke="#000" stroke-width="2.4" stroke-linecap="butt"/>
<line x1="101.02" y1="2372.80" x2="101.02" y2="2376.60" stroke="#000" stroke-width="1.2" stroke-linecap="butt"/>
<line x1="104.70" y1="2372.80" x2="104.70" y2="2376.60" stroke="#000" stroke-width="1.2" stroke-linecap="butt"/>
<line x1="107.86" y1="2372.80" x2="107.86" y2="2376.60" stroke="#000" stroke-width="1.2" stroke-linecap="butt"/>
<line x1="110.49" y1="2372.80" x2="110.49" y2="2376.60" stroke="#000" stroke-width="1.2" stroke-linecap="butt"/>
<line x1="112.86" y1="2372.80" x2="112.86" y2="2376.60" stroke="#000" stroke-width="1.2" stroke-linecap="butt"/>
<line x1="114.96" y1="2372.80" x2="114.96" y2="2376.60" stroke="#000" stroke-width="1.2" stroke-linecap="butt"/>
<line x1="117.06" y1="2372.80" x2="117.06" y2="2376.60" stroke="#000" stroke-width="1.2" stroke-linecap="butt"/>
<line x1="118.91" y1="2372.80" x2="118.91" y2="2376.60" stroke="#000" stroke-width="1.2" stroke-linecap="butt"/>
<line x1="120.75" y1="2372.80" x2="120.75" y2="2376.60" stroke="#000" stroke-width="1.2" stroke-linecap="butt"/>
<line x1="122.33" y1="2372.80" x2="122.33" y2="2376.60" stroke="#000" stroke-width="1.2" stroke-linecap="butt"/>
<line x1="123.90" y1="2372.80" x2="123.90" y2="2376.60" stroke="#000" stroke-width="1.2" stroke-linecap="butt"/>
<line x1="125.48" y1="2372.80" x2="125.48" y2="2376.60" stroke="#000" stroke-width="1.2" stroke-linecap="butt"/>
<line x1="126.80" y1="2372.80" x2="126.80" y2="2376.60" stroke="#000" stroke-width="1.2" stroke-linecap="butt"/>
<line x1="128.11" y1="2372.80" x2="128.11" y2="2376.60" stroke="#000" stroke-width="1.2" stroke-linecap="butt"/>
<line x1="130.74" y1="2372.80" x2="130.74" y2="2376.60" stroke="#000" stroke-width="1.2" stroke-linecap="butt"/>
<line x1="132.06" y1="2372.80" x2="132.06" y2="2376.60" stroke="#000" stroke-width="1.2" stroke-linecap="butt"/>
<line x1="133.63" y1="2372.80" x2="133.63" y2="2376.60" stroke="#000" stroke-width="1.2" stroke-linecap="butt"/>
<line x1="135.21" y1="2372.80" x2="135.21" y2="2376.60" stroke="#000" stroke-width="1.2" stroke-linecap="butt"/>
<line x1="136.79" y1="2372.80" x2="136.79" y2="2376.60" stroke="#000" stroke-width="1.2" stroke-linecap="butt"/>
<line x1="138.63" y1="2372.80" x2="138.63" y2="2376.60" stroke="#000" stroke-width="1.2" stroke-linecap="butt"/>
<line x1="140.74" y1="2372.80" x2="140.74" y2="2376.60" stroke="#000" stroke-width="1.2" stroke-linecap="butt"/>
<line x1="143.10" y1="2372.80" x2="143.10" y2="2376.60" stroke="#000" stroke-width="1.2" stroke-linecap="butt"/>
<line x1="145.73" y1="2372.80" x2="145.73" y2="2376.60" stroke="#000" stroke-width="1.2" stroke-linecap="butt"/>
<line x1="148.63" y1="2372.80" x2="148.63" y2="2376.60" stroke="#000" stroke-width="1.2" stroke-linecap="butt"/>
<line x1="151.78" y1="2372.80" x2="151.78" y2="2376.60" stroke="#000" stroke-width="1.2" stroke-linecap="butt"/>
<line x1="155.20" y1="2372.80" x2="155.20" y2="2376.60" stroke="#000" stroke-width="1.2" stroke-linecap="butt"/>
<line x1="158.36" y1="2372.80" x2="158.36" y2="2376.60" stroke="#000" stroke-width="1.2" stroke-linecap="butt"/>
<line x1="184.13" y1="2372.80" x2="184.13" y2="2376.60" stroke="#000" stroke-width="1.2" stroke-linecap="butt"/>
<line x1="199.13" y1="2372.80" x2="199.13" y2="2376.60" stroke="#000" stroke-width="1.2" stroke-linecap="butt"/>
<line x1="210.96" y1="2372.80" x2="210.96" y2="2376.60" stroke="#000" stroke-width="1.2" stroke-linecap="butt"/>
<line x1="220.96" y1="2372.80" x2="220.96" y2="2376.60" stroke="#000" stroke-width="1.2" stroke-linecap="butt"/>
<line x1="228.85" y1="2372.80" x2="228.85" y2="2376.60" stroke="#000" stroke-width="1.2" stroke-linecap="butt"/>
<line x1="235.16" y1="2372.80" x2="235.16" y2="2376.60" stroke="#000" stroke-width="1.2" stroke-linecap="butt"/>
<line x1="240.42" y1="2372.80" x2="240.42" y2="2376.60" stroke="#000" stroke-width="1.2" stroke-linecap="butt"/>
<line x1="244.63" y1="2372.80" x2="244.63" y2="2376.60" stroke="#000" stroke-width="1.2" stroke-linecap="butt"/>
<line x1="273.56" y1="2372.80" x2="273.56" y2="2376.60" stroke="#000" stroke-width="1.2" stroke-linecap="butt"/>
<line x1="288.55" y1="2372.80" x2="288.55" y2="2376.60" stroke="#000" stroke-width="1.2" stroke-linecap="butt"/>
<line x1="299.07" y1="2372.80" x2="299.07" y2="2376.60" stroke="#000" stroke-width="1.2" stroke-linecap="butt"/>
<line x1="306.96" y1="2372.80" x2="306.96" y2="2376.60" stroke="#000" stroke-width="1.2" stroke-linecap="butt"/>
<line x1="313.54" y1="2372.80" x2="313.54" y2="2376.60" stroke="#000" stroke-width="1.2" stroke-linecap="butt"/>
<line x1="318.80" y1="2372.80" x2="318.80" y2="2376.60" stroke="#000" stroke-width="1.2" stroke-linecap="butt"/>
<line x1="323.53" y1="2372.80" x2="323.53" y2="2376.60" stroke="#000" stroke-width="1.2" stroke-linecap="butt"/>
<line x1="327.48" y1="2372.80" x2="327.48" y2="2376.60" stroke="#000" stroke-width="1.2" stroke-linecap="butt"/>
<line x1="356.15" y1="2372.80" x2="356.15" y2="2376.60" stroke="#000" stroke-width="1.2" stroke-linecap="butt"/>
<line x1="370.88" y1="2372.80" x2="370.88" y2="2376.60" stroke="#000" stroke-width="1.2" stroke-linecap="butt"/>
<line x1="381.40" y1="2372.80" x2="381.40" y2="2376.60" stroke="#000" stroke-width="1.2" stroke-linecap="butt"/>
<line x1="389.29" y1="2372.80" x2="389.29" y2="2376.60" stroke="#000" stroke-width="1.2" stroke-linecap="butt"/>
<line x1="395.60" y1="2372.80" x2="395.60" y2="2376.60" stroke="#000" stroke-width="1.2" stroke-linecap="butt"/>
<line x1="400.86" y1="2372.80" x2="400.86" y2="2376.60" stroke="#000" stroke-width="1.2" stroke-linecap="butt"/>
<line x1="405.60" y1="2372.80" x2="405.60" y2="2376.60" stroke="#000" stroke-width="1.2" stroke-linecap="butt"/>
<line x1="409.81" y1="2372.80" x2="409.81" y2="2376.60" stroke="#000" stroke-width="1.2" stroke-linecap="butt"/>
<line x1="438.47" y1="2372.80" x2="438.47" y2="2376.60" stroke="#000" stroke-width="1.2" stroke-linecap="butt"/>
<line x1="112.33" y1="2372.80" x2="112.33" y2="2379.40" stroke="#000" stroke-width="1.6" stroke-linecap="butt"/>
<line x1="146.26" y1="2372.80" x2="146.26" y2="2379.40" stroke="#000" stroke-width="1.6" stroke-linecap="butt"/>
<line x1="438.47" y1="2372.80" x2="438.47" y2="2379.40" stroke="#000" stroke-width="1.6" stroke-linecap="butt"/>
<line x1="220.96" y1="2372.80" x2="220.96" y2="2379.40" stroke="#000" stroke-width="1.6" stroke-linecap="butt"/>
<line x1="306.96" y1="2372.80" x2="306.96" y2="2379.40" stroke="#000" stroke-width="1.6" stroke-linecap="butt"/>
<line x1="389.29" y1="2372.80" x2="389.29" y2="2379.40" stroke="#000" stroke-width="1.6" stroke-linecap="butt"/>
<rect x="124.9" y="2372.8" width="8.4" height="9.6" fill="#000"/>
<text x="128.50" y="2402.10" text-anchor="middle" style="font-size:19.8px;">0</text>
<text x="238.58" y="2402.10" text-anchor="start" style="font-size:19.8px;">10<tspan dx="0.5" dy="-8.5" style="font-size:17px">3</tspan></text>
<text x="321.96" y="2402.10" text-anchor="start" style="font-size:19.8px;">10<tspan dx="0.5" dy="-8.5" style="font-size:17px">4</tspan></text>
<text x="404.28" y="2402.10" text-anchor="start" style="font-size:19.8px;">10<tspan dx="0.5" dy="-8.5" style="font-size:17px">5</tspan></text>
<text x="452.40" y="2093.70" text-anchor="start" style="font-size:29.5px;">OVA-alum</text>
<text x="452.40" y="2213.00" text-anchor="start" style="font-size:29.5px;">Naive</text>
<text x="452.40" y="2333.50" text-anchor="start" style="font-size:29.5px;">Naive isotype</text>
<text x="83.20" y="2429.60" text-anchor="start" style="font-size:29.3px;">5-HT-PE</text>
<line x1="200.00" y1="2421.30" x2="456.00" y2="2421.30" stroke="#000" stroke-width="2.4" stroke-linecap="butt"/>
<path d="M466.5 2421.3 L452 2415.3 L455.5 2421.3 L452 2427.3 Z" fill="#000"/>
<path d="M70 2391.4 V2421.3 H79.5" fill="none" stroke="#000" stroke-width="2.4"/>
<text x="0" y="0" text-anchor="start" style="font-size:29.3px;" transform="translate(76.00,2381.00) rotate(-90)">% of max.</text>
<line x1="70.60" y1="2250.00" x2="70.60" y2="2010.00" stroke="#000" stroke-width="2.4" stroke-linecap="butt"/>
<path d="M70.6 2000 L64.6 2014.5 L70.6 2011 L76.6 2014.5 Z" fill="#000"/>
<text x="663.00" y="1991.00" text-anchor="start" style="font-size:51.5px;font-weight:bold;">f</text>
<line x1="783.10" y1="2099.25" x2="783.10" y2="2363.95" stroke="#000" stroke-width="3.1" stroke-linecap="butt"/>
<line x1="781.55" y1="2362.40" x2="887.00" y2="2362.40" stroke="#000" stroke-width="3.1" stroke-linecap="butt"/>
<line x1="778.35" y1="2362.40" x2="783.10" y2="2362.40" stroke="#000" stroke-width="2.6" stroke-linecap="butt"/>
<text x="775.00" y="2371.50" text-anchor="end" style="font-size:26.6px;">0</text>
<line x1="778.35" y1="2297.00" x2="783.10" y2="2297.00" stroke="#000" stroke-width="2.6" stroke-linecap="butt"/>
<text x="775.00" y="2306.10" text-anchor="end" style="font-size:26.6px;">20</text>
<line x1="778.35" y1="2231.60" x2="783.10" y2="2231.60" stroke="#000" stroke-width="2.6" stroke-linecap="butt"/>
<text x="775.00" y="2240.70" text-anchor="end" style="font-size:26.6px;">40</text>
<line x1="778.35" y1="2166.20" x2="783.10" y2="2166.20" stroke="#000" stroke-width="2.6" stroke-linecap="butt"/>
<text x="775.00" y="2175.30" text-anchor="end" style="font-size:26.6px;">60</text>
<line x1="778.35" y1="2100.80" x2="783.10" y2="2100.80" stroke="#000" stroke-width="2.6" stroke-linecap="butt"/>
<text x="775.00" y="2109.90" text-anchor="end" style="font-size:26.6px;">80</text>
<line x1="815.40" y1="2362.40" x2="815.40" y2="2367.15" stroke="#000" stroke-width="3.1" stroke-linecap="butt"/>
<line x1="854.70" y1="2362.40" x2="854.70" y2="2367.15" stroke="#000" stroke-width="3.1" stroke-linecap="butt"/>
<circle cx="815.80" cy="2123.25" r="5.15" fill="#a6a6a6" stroke="#111" stroke-width="1.5"/>
<circle cx="815.80" cy="2138.25" r="5.15" fill="#a6a6a6" stroke="#111" stroke-width="1.5"/>
<circle cx="815.80" cy="2160.09" r="5.15" fill="#a6a6a6" stroke="#111" stroke-width="1.5"/>
<circle cx="815.80" cy="2178.33" r="5.15" fill="#a6a6a6" stroke="#111" stroke-width="1.5"/>
<circle cx="807.83" cy="2218.02" r="5.15" fill="#a6a6a6" stroke="#111" stroke-width="1.5"/>
<circle cx="823.78" cy="2216.70" r="5.15" fill="#a6a6a6" stroke="#111" stroke-width="1.5"/>
<circle cx="815.80" cy="2229.99" r="5.15" fill="#a6a6a6" stroke="#111" stroke-width="1.5"/>
<circle cx="815.80" cy="2292.67" r="5.15" fill="#a6a6a6" stroke="#111" stroke-width="1.5"/>
<circle cx="847.14" cy="2166.93" r="5.15" fill="#f47e7e" stroke="#1a0505" stroke-width="1.5"/>
<circle cx="862.72" cy="2161.61" r="5.15" fill="#f47e7e" stroke="#1a0505" stroke-width="1.5"/>
<circle cx="862.72" cy="2172.63" r="5.15" fill="#f47e7e" stroke="#1a0505" stroke-width="1.5"/>
<circle cx="854.74" cy="2240.44" r="5.15" fill="#f47e7e" stroke="#1a0505" stroke-width="1.5"/>
<line x1="803.46" y1="2194.47" x2="828.72" y2="2194.47" stroke="#000" stroke-width="2.9" stroke-linecap="butt"/>
<line x1="841.82" y1="2185.36" x2="867.65" y2="2185.36" stroke="#000" stroke-width="2.9" stroke-linecap="butt"/>
<text x="0" y="0" text-anchor="middle" style="font-size:25.5px;" transform="translate(729.80,2232.00) rotate(-90)">5-HT<tspan dx="2" dy="-10" style="font-size:22px">+</tspan><tspan dx="3" dy="10">mast cells (%)</tspan></text>
<text x="0" y="0" text-anchor="end" style="font-size:25.5px;" transform="translate(821.00,2376.00) rotate(-45)">naive</text>
<text x="0" y="0" text-anchor="end" style="font-size:25.5px;" transform="translate(860.50,2379.00) rotate(-45)">OVA-alum</text>
<text x="969.00" y="1991.00" text-anchor="start" style="font-size:51.5px;font-weight:bold;">g</text>
<line x1="1097.60" y1="2095.05" x2="1097.60" y2="2363.65" stroke="#000" stroke-width="2.9" stroke-linecap="butt"/>
<line x1="1096.15" y1="2362.20" x2="1309.00" y2="2362.20" stroke="#000" stroke-width="2.9" stroke-linecap="butt"/>
<line x1="1092.95" y1="2362.20" x2="1097.60" y2="2362.20" stroke="#000" stroke-width="2.6" stroke-linecap="butt"/>
<text x="1088.30" y="2371.70" text-anchor="end" style="font-size:26.6px;">0</text>
<line x1="1092.95" y1="2295.77" x2="1097.60" y2="2295.77" stroke="#000" stroke-width="2.6" stroke-linecap="butt"/>
<text x="1088.30" y="2305.27" text-anchor="end" style="font-size:26.6px;">25</text>
<line x1="1092.95" y1="2229.35" x2="1097.60" y2="2229.35" stroke="#000" stroke-width="2.6" stroke-linecap="butt"/>
<text x="1088.30" y="2238.85" text-anchor="end" style="font-size:26.6px;">50</text>
<line x1="1092.95" y1="2162.93" x2="1097.60" y2="2162.93" stroke="#000" stroke-width="2.6" stroke-linecap="butt"/>
<text x="1088.30" y="2172.43" text-anchor="end" style="font-size:26.6px;">75</text>
<line x1="1092.95" y1="2096.50" x2="1097.60" y2="2096.50" stroke="#000" stroke-width="2.6" stroke-linecap="butt"/>
<text x="1088.30" y="2106.00" text-anchor="end" style="font-size:26.6px;">100</text>
<line x1="1135.20" y1="2362.20" x2="1135.20" y2="2366.85" stroke="#000" stroke-width="2.9" stroke-linecap="butt"/>
<line x1="1180.50" y1="2362.20" x2="1180.50" y2="2366.85" stroke="#000" stroke-width="2.9" stroke-linecap="butt"/>
<line x1="1226.00" y1="2362.20" x2="1226.00" y2="2366.85" stroke="#000" stroke-width="2.9" stroke-linecap="butt"/>
<line x1="1271.30" y1="2362.20" x2="1271.30" y2="2366.85" stroke="#000" stroke-width="2.9" stroke-linecap="butt"/>
<circle cx="1135.16" cy="2108.09" r="5.35" fill="#a6a6a6" stroke="#111" stroke-width="1.5"/>
<circle cx="1125.61" cy="2140.61" r="5.35" fill="#a6a6a6" stroke="#111" stroke-width="1.5"/>
<circle cx="1144.72" cy="2141.02" r="5.35" fill="#a6a6a6" stroke="#111" stroke-width="1.5"/>
<circle cx="1135.16" cy="2185.93" r="5.35" fill="#a6a6a6" stroke="#111" stroke-width="1.5"/>
<circle cx="1144.72" cy="2201.59" r="5.35" fill="#a6a6a6" stroke="#111" stroke-width="1.5"/>
<circle cx="1125.61" cy="2209.11" r="5.35" fill="#a6a6a6" stroke="#111" stroke-width="1.5"/>
<circle cx="1125.61" cy="2256.46" r="5.35" fill="#a6a6a6" stroke="#111" stroke-width="1.5"/>
<circle cx="1144.72" cy="2255.85" r="5.35" fill="#a6a6a6" stroke="#111" stroke-width="1.5"/>
<rect x="1175.39" y="2106.04" width="10.2" height="10.2" fill="#a6a6a6" stroke="#111" stroke-width="1.5"/>
<rect x="1175.39" y="2135.10" width="10.2" height="10.2" fill="#a6a6a6" stroke="#111" stroke-width="1.5"/>
<rect x="1175.39" y="2171.69" width="10.2" height="10.2" fill="#a6a6a6" stroke="#111" stroke-width="1.5"/>
<rect x="1185.35" y="2253.80" width="10.2" height="10.2" fill="#a6a6a6" stroke="#111" stroke-width="1.5"/>
<rect x="1165.63" y="2261.93" width="10.2" height="10.2" fill="#a6a6a6" stroke="#111" stroke-width="1.5"/>
<rect x="1185.35" y="2268.23" width="10.2" height="10.2" fill="#a6a6a6" stroke="#111" stroke-width="1.5"/>
<rect x="1165.63" y="2274.74" width="10.2" height="10.2" fill="#a6a6a6" stroke="#111" stroke-width="1.5"/>
<circle cx="1226.02" cy="2175.57" r="5.35" fill="#f47e7e" stroke="#1a0505" stroke-width="1.5"/>
<circle cx="1226.02" cy="2190.00" r="5.35" fill="#f47e7e" stroke="#1a0505" stroke-width="1.5"/>
<circle cx="1230.69" cy="2200.57" r="5.35" fill="#f47e7e" stroke="#1a0505" stroke-width="1.5"/>
<circle cx="1225.61" cy="2204.23" r="5.35" fill="#f47e7e" stroke="#1a0505" stroke-width="1.5"/>
<circle cx="1216.46" cy="2244.27" r="5.35" fill="#f47e7e" stroke="#1a0505" stroke-width="1.5"/>
<circle cx="1225.61" cy="2253.41" r="5.35" fill="#f47e7e" stroke="#1a0505" stroke-width="1.5"/>
<circle cx="1216.46" cy="2257.48" r="5.35" fill="#f47e7e" stroke="#1a0505" stroke-width="1.5"/>
<circle cx="1230.69" cy="2257.48" r="5.35" fill="#f47e7e" stroke="#1a0505" stroke-width="1.5"/>
<circle cx="1221.14" cy="2265.20" r="5.35" fill="#f47e7e" stroke="#1a0505" stroke-width="1.5"/>
<circle cx="1225.61" cy="2265.20" r="5.35" fill="#f47e7e" stroke="#1a0505" stroke-width="1.5"/>
<circle cx="1235.37" cy="2268.66" r="5.35" fill="#f47e7e" stroke="#1a0505" stroke-width="1.5"/>
<circle cx="1216.46" cy="2270.69" r="5.35" fill="#f47e7e" stroke="#1a0505" stroke-width="1.5"/>
<circle cx="1230.69" cy="2273.74" r="5.35" fill="#f47e7e" stroke="#1a0505" stroke-width="1.5"/>
<circle cx="1221.14" cy="2281.87" r="5.35" fill="#f47e7e" stroke="#1a0505" stroke-width="1.5"/>
<circle cx="1230.69" cy="2283.90" r="5.35" fill="#f47e7e" stroke="#1a0505" stroke-width="1.5"/>
<circle cx="1230.69" cy="2302.20" r="5.35" fill="#f47e7e" stroke="#1a0505" stroke-width="1.5"/>
<circle cx="1221.14" cy="2305.24" r="5.35" fill="#f47e7e" stroke="#1a0505" stroke-width="1.5"/>
<circle cx="1226.02" cy="2309.92" r="5.35" fill="#f47e7e" stroke="#1a0505" stroke-width="1.5"/>
<circle cx="1230.69" cy="2313.37" r="5.35" fill="#f47e7e" stroke="#1a0505" stroke-width="1.5"/>
<circle cx="1221.14" cy="2319.88" r="5.35" fill="#f47e7e" stroke="#1a0505" stroke-width="1.5"/>
<rect x="1266.24" y="2112.75" width="10.2" height="10.2" fill="#f47e7e" stroke="#1a0505" stroke-width="1.5"/>
<rect x="1276.00" y="2129.41" width="10.2" height="10.2" fill="#f47e7e" stroke="#1a0505" stroke-width="1.5"/>
<rect x="1266.24" y="2139.57" width="10.2" height="10.2" fill="#f47e7e" stroke="#1a0505" stroke-width="1.5"/>
<rect x="1266.24" y="2156.24" width="10.2" height="10.2" fill="#f47e7e" stroke="#1a0505" stroke-width="1.5"/>
<rect x="1266.24" y="2170.06" width="10.2" height="10.2" fill="#f47e7e" stroke="#1a0505" stroke-width="1.5"/>
<rect x="1256.49" y="2177.79" width="10.2" height="10.2" fill="#f47e7e" stroke="#1a0505" stroke-width="1.5"/>
<rect x="1266.24" y="2184.90" width="10.2" height="10.2" fill="#f47e7e" stroke="#1a0505" stroke-width="1.5"/>
<rect x="1266.24" y="2198.52" width="10.2" height="10.2" fill="#f47e7e" stroke="#1a0505" stroke-width="1.5"/>
<rect x="1266.24" y="2225.96" width="10.2" height="10.2" fill="#f47e7e" stroke="#1a0505" stroke-width="1.5"/>
<rect x="1256.49" y="2235.10" width="10.2" height="10.2" fill="#f47e7e" stroke="#1a0505" stroke-width="1.5"/>
<rect x="1276.00" y="2235.10" width="10.2" height="10.2" fill="#f47e7e" stroke="#1a0505" stroke-width="1.5"/>
<rect x="1266.24" y="2238.15" width="10.2" height="10.2" fill="#f47e7e" stroke="#1a0505" stroke-width="1.5"/>
<rect x="1256.49" y="2254.01" width="10.2" height="10.2" fill="#f47e7e" stroke="#1a0505" stroke-width="1.5"/>
<rect x="1266.24" y="2254.01" width="10.2" height="10.2" fill="#f47e7e" stroke="#1a0505" stroke-width="1.5"/>
<rect x="1276.00" y="2260.10" width="10.2" height="10.2" fill="#f47e7e" stroke="#1a0505" stroke-width="1.5"/>
<rect x="1256.49" y="2268.64" width="10.2" height="10.2" fill="#f47e7e" stroke="#1a0505" stroke-width="1.5"/>
<rect x="1266.24" y="2271.28" width="10.2" height="10.2" fill="#f47e7e" stroke="#1a0505" stroke-width="1.5"/>
<rect x="1256.49" y="2279.41" width="10.2" height="10.2" fill="#f47e7e" stroke="#1a0505" stroke-width="1.5"/>
<rect x="1276.00" y="2279.41" width="10.2" height="10.2" fill="#f47e7e" stroke="#1a0505" stroke-width="1.5"/>
<rect x="1270.92" y="2295.47" width="10.2" height="10.2" fill="#f47e7e" stroke="#1a0505" stroke-width="1.5"/>
<rect x="1261.16" y="2301.16" width="10.2" height="10.2" fill="#f47e7e" stroke="#1a0505" stroke-width="1.5"/>
<rect x="1270.92" y="2321.89" width="10.2" height="10.2" fill="#f47e7e" stroke="#1a0505" stroke-width="1.5"/>
<rect x="1261.16" y="2323.92" width="10.2" height="10.2" fill="#f47e7e" stroke="#1a0505" stroke-width="1.5"/>
<line x1="1120.53" y1="2193.86" x2="1150.00" y2="2193.86" stroke="#000" stroke-width="2.4" stroke-linecap="butt"/>
<line x1="1165.65" y1="2258.90" x2="1195.12" y2="2258.90" stroke="#000" stroke-width="2.4" stroke-linecap="butt"/>
<line x1="1211.38" y1="2269.67" x2="1240.45" y2="2269.67" stroke="#000" stroke-width="2.4" stroke-linecap="butt"/>
<line x1="1256.50" y1="2242.64" x2="1286.18" y2="2242.64" stroke="#000" stroke-width="2.4" stroke-linecap="butt"/>
<text x="1249.80" y="2070.90" text-anchor="middle" style="font-size:21.5px;">0.0981</text>
<path d="M1225.40 2089.60V2079.40H1271.30V2089.60" fill="none" stroke="#7c7c7c" stroke-width="1.2"/>
<text x="0" y="0" text-anchor="middle" style="font-size:23.5px;" transform="translate(1030.50,2227.50) rotate(-90)" textLength="335" lengthAdjust="spacingAndGlyphs">Egg white water intake in 6h (%)</text>
<text x="0" y="0" text-anchor="end" style="font-size:25.5px;" transform="translate(1140.20,2374.00) rotate(-45)">Vehicle</text>
<text x="0" y="0" text-anchor="end" style="font-size:25.5px;" transform="translate(1185.50,2374.00) rotate(-45)">Palonosetron</text>
<text x="0" y="0" text-anchor="end" style="font-size:25.5px;" transform="translate(1231.00,2374.00) rotate(-45)">Vehicle</text>
<text x="0" y="0" text-anchor="end" style="font-size:25.5px;" transform="translate(1276.30,2374.00) rotate(-45)">Palonosetron</text>
<line x1="1048.40" y1="2494.90" x2="1130.70" y2="2494.90" stroke="#000" stroke-width="1.8" stroke-linecap="butt"/>
<text x="1088.40" y="2520.00" text-anchor="middle" style="font-size:25.7px;">alum</text>
<line x1="1145.30" y1="2494.90" x2="1227.20" y2="2494.90" stroke="#000" stroke-width="1.8" stroke-linecap="butt"/>
<text x="1187.00" y="2520.00" text-anchor="middle" style="font-size:25.7px;">OVA-alum</text>
</svg>
</body></html>
